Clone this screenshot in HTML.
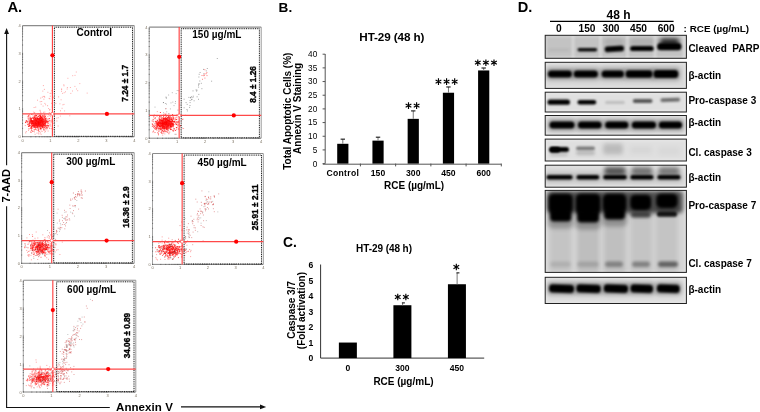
<!DOCTYPE html>
<html><head><meta charset="utf-8"><style>
html,body{margin:0;padding:0;background:#fff;width:760px;height:412px;overflow:hidden}
svg{display:block;filter:blur(0.35px)}
text{font-family:"Liberation Sans", sans-serif;white-space:pre}
</style></head><body>
<svg width="760" height="412" viewBox="0 0 760 412">
<defs><filter id="bl" x="-30%" y="-80%" width="160%" height="260%"><feGaussianBlur stdDeviation="0.9"/></filter><filter id="bl2" x="-40%" y="-80%" width="180%" height="260%"><feGaussianBlur stdDeviation="2.2"/></filter><filter id="bl3" x="-40%" y="-40%" width="180%" height="180%"><feGaussianBlur stdDeviation="1.5"/></filter></defs>
<text x="7.4" y="11.8" font-size="14.8" font-weight="bold" fill="#000">A.</text>
<text x="278.6" y="11.8" font-size="13.6" font-weight="bold" fill="#000">B.</text>
<text x="283.0" y="246.6" font-size="13.8" font-weight="bold" fill="#000">C.</text>
<text x="517.8" y="12.2" font-size="14.6" font-weight="bold" fill="#000">D.</text>
<path d="M37.7 122.6h1.0M43.7 115.3h1.0M43.1 121.0h1.0M35.3 119.0h1.0M36.3 122.9h1.0M35.2 129.2h1.0M40.1 128.6h1.0M37.3 119.4h1.0M40.9 121.6h1.0M29.3 126.1h1.0M44.6 118.9h1.0M37.2 126.5h1.0M40.6 119.0h1.0M37.0 118.2h1.0M35.9 124.4h1.0M39.7 125.3h1.0M41.3 119.8h1.0M36.7 125.3h1.0M36.9 119.9h1.0M40.7 125.5h1.0M33.7 120.1h1.0M30.8 122.2h1.0M39.4 123.4h1.0M34.6 124.8h1.0M29.0 121.9h1.0M34.0 127.6h1.0M35.5 123.1h1.0M32.3 123.5h1.0M30.9 120.6h1.0M37.8 125.7h1.0M41.6 117.4h1.0M36.6 123.2h1.0M34.3 125.5h1.0M39.3 118.4h1.0M40.8 117.5h1.0M36.3 122.8h1.0M40.0 124.7h1.0M42.3 122.1h1.0M36.7 124.2h1.0M34.0 123.2h1.0M39.1 117.9h1.0M38.7 121.1h1.0M42.5 121.7h1.0M31.8 121.5h1.0M34.6 122.5h1.0M33.8 120.0h1.0M29.8 120.1h1.0M38.2 123.3h1.0M40.0 121.9h1.0M34.3 115.7h1.0M43.8 120.9h1.0M41.3 122.7h1.0M40.4 116.5h1.0M39.4 122.2h1.0M41.9 125.2h1.0M31.6 120.6h1.0M40.3 124.7h1.0M40.3 123.6h1.0M29.7 121.6h1.0M39.1 122.6h1.0M36.5 124.4h1.0M41.1 123.7h1.0M35.6 124.0h1.0M37.5 119.0h1.0M39.1 124.2h1.0M33.7 124.0h1.0M40.3 116.5h1.0M37.1 123.8h1.0M39.8 118.1h1.0M35.3 118.7h1.0M42.5 122.5h1.0M40.3 126.1h1.0M36.8 121.0h1.0M40.4 120.3h1.0M43.2 119.4h1.0M45.6 121.8h1.0M30.6 119.1h1.0M41.5 118.3h1.0M39.7 125.1h1.0M37.2 118.3h1.0M33.1 121.9h1.0M43.2 123.7h1.0M32.0 123.3h1.0M40.1 117.0h1.0M43.4 119.3h1.0M30.4 127.4h1.0M36.2 122.1h1.0M31.7 122.8h1.0M38.7 122.7h1.0M44.4 123.5h1.0M46.6 126.0h1.0M29.6 120.1h1.0M35.0 124.9h1.0M40.7 123.2h1.0M44.7 123.7h1.0M39.5 124.2h1.0M34.3 120.3h1.0M38.9 121.2h1.0M37.5 124.1h1.0M36.7 124.9h1.0M34.3 123.7h1.0M39.3 119.5h1.0M39.0 121.9h1.0M37.2 121.6h1.0M36.6 123.2h1.0M31.8 123.2h1.0M35.4 121.7h1.0M43.0 127.2h1.0M36.7 117.8h1.0M31.2 124.6h1.0M43.6 123.6h1.0M40.0 118.5h1.0M47.0 121.3h1.0M37.9 122.1h1.0M35.5 123.9h1.0M31.1 126.8h1.0M43.5 121.6h1.0M49.1 118.6h1.0M33.9 124.9h1.0M34.7 118.6h1.0M40.3 125.3h1.0M33.9 124.4h1.0M36.4 120.9h1.0M36.0 122.3h1.0M38.5 120.3h1.0M42.5 124.2h1.0M37.7 125.1h1.0M41.7 127.3h1.0M35.7 125.7h1.0M39.1 125.2h1.0M28.0 126.5h1.0M31.1 121.6h1.0M41.2 124.0h1.0M35.0 127.9h1.0M40.2 115.3h1.0M40.0 124.5h1.0M43.5 125.6h1.0M41.2 118.7h1.0M42.1 118.9h1.0M37.1 125.5h1.0M34.5 126.4h1.0M34.3 125.1h1.0M35.4 119.2h1.0M32.5 123.3h1.0M35.1 124.6h1.0M37.2 122.3h1.0M38.7 118.9h1.0M36.1 126.2h1.0M29.0 123.6h1.0M37.3 126.1h1.0M38.6 116.2h1.0M42.4 117.1h1.0M40.2 119.5h1.0M34.7 122.7h1.0M34.4 120.5h1.0M46.6 127.8h1.0M41.0 121.4h1.0M45.8 125.7h1.0M47.1 125.6h1.0M33.9 124.3h1.0M39.3 123.2h1.0M39.6 120.6h1.0M40.1 120.2h1.0M40.0 121.5h1.0M38.5 124.8h1.0M38.4 120.4h1.0M30.9 122.8h1.0M36.9 119.0h1.0M34.2 124.9h1.0M38.2 129.9h1.0M35.5 123.6h1.0M40.4 116.2h1.0M41.3 120.8h1.0M39.0 122.8h1.0M39.0 119.8h1.0M38.0 120.8h1.0M35.6 121.0h1.0M36.9 123.7h1.0M35.4 122.1h1.0M39.3 121.6h1.0M37.7 124.0h1.0M40.2 125.3h1.0M31.7 122.1h1.0M41.6 119.4h1.0M34.2 120.6h1.0M34.3 121.0h1.0M36.7 120.9h1.0M35.1 115.2h1.0M38.9 121.5h1.0M35.0 119.4h1.0M32.8 117.0h1.0M33.8 122.2h1.0M43.5 121.3h1.0M37.8 119.4h1.0M32.4 117.7h1.0M37.6 121.4h1.0M30.6 121.5h1.0M45.6 121.8h1.0M30.8 125.8h1.0M39.7 119.1h1.0M40.0 122.9h1.0M31.1 127.2h1.0M38.9 122.6h1.0M42.1 126.9h1.0M39.7 125.0h1.0M38.8 122.2h1.0M41.8 124.7h1.0M38.3 119.3h1.0M39.1 126.3h1.0M37.0 121.5h1.0M40.4 120.6h1.0M33.4 118.3h1.0M41.1 119.6h1.0M35.3 121.7h1.0M32.7 122.2h1.0M39.2 122.3h1.0M45.2 118.8h1.0M41.9 123.9h1.0M35.3 120.9h1.0M40.7 122.4h1.0M35.6 121.6h1.0M37.0 123.0h1.0M38.0 116.3h1.0M27.2 124.4h1.0M38.4 121.5h1.0M33.0 121.6h1.0M34.5 120.6h1.0M31.0 121.2h1.0M30.8 121.3h1.0M33.4 119.6h1.0M41.3 126.3h1.0M45.0 122.0h1.0M37.5 125.6h1.0M42.5 121.4h1.0M36.4 125.5h1.0M29.0 125.2h1.0M38.3 122.4h1.0M39.6 118.3h1.0M35.7 120.7h1.0M38.9 121.4h1.0M40.2 118.2h1.0M33.7 125.0h1.0M31.0 128.2h1.0M36.6 123.4h1.0M36.6 123.0h1.0M36.0 118.8h1.0M42.0 116.1h1.0M45.3 125.7h1.0M35.7 115.4h1.0M40.7 117.8h1.0M41.8 119.8h1.0M40.8 121.1h1.0M42.3 115.3h1.0M35.9 122.0h1.0M40.9 123.4h1.0M46.6 121.6h1.0M41.2 125.9h1.0M34.8 121.0h1.0M40.3 122.4h1.0M43.2 121.1h1.0M39.2 121.2h1.0M35.1 125.2h1.0M44.5 118.4h1.0M32.0 125.2h1.0M39.8 119.7h1.0M37.5 126.6h1.0M32.3 121.4h1.0M43.0 124.3h1.0M39.1 122.0h1.0M32.4 124.2h1.0M40.3 128.2h1.0M35.7 125.4h1.0M29.1 122.3h1.0M34.5 120.6h1.0M38.8 126.3h1.0M40.4 128.0h1.0M38.3 124.6h1.0M37.8 122.8h1.0M39.7 123.9h1.0M36.6 124.5h1.0M42.9 119.7h1.0M38.3 119.5h1.0M38.9 120.1h1.0M40.0 124.7h1.0M32.9 122.1h1.0M34.4 122.8h1.0M44.4 126.0h1.0M39.1 119.7h1.0M36.3 122.0h1.0M39.1 123.5h1.0M35.4 118.3h1.0M38.8 120.1h1.0M34.6 119.9h1.0M38.8 118.8h1.0M30.5 120.4h1.0M43.5 125.5h1.0M35.3 123.4h1.0M30.5 119.7h1.0M36.6 124.4h1.0M35.9 122.2h1.0M38.3 121.1h1.0M32.5 118.4h1.0M39.4 118.6h1.0M53.8 119.2h1.0M31.9 122.9h1.0M39.1 119.6h1.0M36.2 120.8h1.0M38.5 122.6h1.0M29.5 118.7h1.0M32.4 121.0h1.0M39.6 124.3h1.0M37.4 118.7h1.0M44.9 122.7h1.0M34.4 120.7h1.0M38.4 126.4h1.0M50.6 121.9h1.0M34.2 125.0h1.0M33.6 125.0h1.0M37.4 127.5h1.0M37.4 116.3h1.0M41.4 122.5h1.0M38.2 121.5h1.0M34.2 119.3h1.0M38.5 122.5h1.0M49.4 120.4h1.0M43.3 125.8h1.0M25.2 122.1h1.0M37.0 123.4h1.0M33.7 121.0h1.0M40.4 121.6h1.0M36.8 126.1h1.0M46.2 127.1h1.0M41.8 124.9h1.0M41.6 120.1h1.0M38.4 121.0h1.0M37.4 121.1h1.0M39.1 127.8h1.0M43.4 129.5h1.0M40.0 123.9h1.0M36.0 123.2h1.0M43.3 123.7h1.0M38.5 121.2h1.0M37.2 122.7h1.0M34.1 125.6h1.0M35.1 124.8h1.0M34.7 121.9h1.0M25.1 122.4h1.0M42.1 122.3h1.0M40.1 115.9h1.0M36.6 123.0h1.0M42.3 121.8h1.0M39.6 124.9h1.0M39.3 123.2h1.0M26.5 121.1h1.0M36.6 120.7h1.0M40.0 122.6h1.0M44.8 120.9h1.0M45.8 121.8h1.0M44.0 127.3h1.0M32.4 131.5h1.0M27.8 116.2h1.0M40.1 119.9h1.0M37.7 122.4h1.0M41.9 126.9h1.0M37.0 125.8h1.0M38.6 118.5h1.0M30.9 130.2h1.0M39.6 123.1h1.0M35.6 119.9h1.0M39.2 121.8h1.0M39.6 120.1h1.0M37.1 122.6h1.0M39.0 115.6h1.0M37.5 125.1h1.0M41.0 125.9h1.0M39.8 121.4h1.0M35.1 118.4h1.0M35.0 122.5h1.0M45.4 119.1h1.0M37.1 123.7h1.0M42.0 125.4h1.0M39.4 118.3h1.0M35.1 118.0h1.0M34.2 118.1h1.0M38.1 123.5h1.0M38.7 125.4h1.0M40.3 125.4h1.0M31.9 123.1h1.0M34.9 120.7h1.0M37.2 120.9h1.0M44.8 126.0h1.0M27.0 122.0h1.0M39.6 122.1h1.0M35.2 122.1h1.0M39.5 122.3h1.0M35.4 122.9h1.0M39.2 120.6h1.0M44.6 121.7h1.0M39.2 121.6h1.0M39.5 124.1h1.0M39.3 121.1h1.0M34.2 122.7h1.0M40.0 128.0h1.0M36.7 120.9h1.0M34.0 123.1h1.0M37.4 119.7h1.0M36.6 122.7h1.0M41.0 122.4h1.0M37.4 121.7h1.0M35.2 122.4h1.0M44.1 123.3h1.0M42.0 127.1h1.0M43.3 117.0h1.0M40.3 126.6h1.0M37.1 123.2h1.0M35.7 120.5h1.0M36.3 121.2h1.0M41.8 120.6h1.0M38.1 120.1h1.0M31.0 119.0h1.0M37.4 121.4h1.0M31.3 114.4h1.0M38.3 125.0h1.0M32.2 121.8h1.0M31.9 123.4h1.0M38.1 123.8h1.0M37.2 121.5h1.0M30.2 118.4h1.0M40.9 124.1h1.0M47.3 123.9h1.0M31.0 120.5h1.0M45.7 120.5h1.0M34.5 116.9h1.0M35.4 119.5h1.0M36.8 121.6h1.0M31.1 123.4h1.0M43.4 121.5h1.0M39.8 122.7h1.0M34.2 126.1h1.0M36.4 122.3h1.0M30.8 123.0h1.0M36.0 123.0h1.0M41.8 123.3h1.0M29.9 117.8h1.0M35.6 120.4h1.0M38.2 119.6h1.0M42.3 123.8h1.0M43.6 124.9h1.0M35.5 123.1h1.0M34.3 121.7h1.0M39.6 123.2h1.0M36.0 122.8h1.0M36.2 119.6h1.0M42.4 121.3h1.0M45.1 124.8h1.0M38.8 123.4h1.0M36.7 124.1h1.0M40.1 121.7h1.0M29.2 125.8h1.0M37.5 122.8h1.0M32.9 120.5h1.0M48.3 121.8h1.0M40.8 124.7h1.0M38.2 123.9h1.0M36.7 121.9h1.0M26.3 121.3h1.0M40.8 119.8h1.0M44.9 122.4h1.0M34.3 126.0h1.0M40.6 118.2h1.0M40.8 121.3h1.0M30.7 121.3h1.0M41.8 121.3h1.0M43.7 124.9h1.0M38.6 123.1h1.0M37.3 121.6h1.0M41.1 119.3h1.0M30.7 122.3h1.0M38.0 130.9h1.0M42.3 122.8h1.0M32.0 121.5h1.0M42.0 118.5h1.0M35.7 120.3h1.0M28.3 115.6h1.0M37.1 118.3h1.0M33.2 118.7h1.0M39.0 119.6h1.0M32.4 126.3h1.0M42.3 119.8h1.0M34.3 120.7h1.0M39.2 123.7h1.0M34.9 120.7h1.0M36.1 121.1h1.0M42.9 123.4h1.0M38.6 122.6h1.0M35.8 123.0h1.0M32.0 121.8h1.0M42.8 123.3h1.0M40.9 120.6h1.0M36.1 127.6h1.0M38.7 123.0h1.0M33.0 127.1h1.0M33.1 123.7h1.0M33.9 120.9h1.0M39.2 122.1h1.0M38.9 122.5h1.0M34.3 122.2h1.0M40.9 117.8h1.0M41.1 125.2h1.0M38.4 119.8h1.0M42.2 126.3h1.0M36.3 123.6h1.0M37.1 121.8h1.0M39.7 124.6h1.0M37.4 121.7h1.0M41.1 120.1h1.0M32.0 125.7h1.0M44.0 122.3h1.0M34.1 123.4h1.0M36.9 127.7h1.0M31.4 123.0h1.0M40.3 124.4h1.0M43.3 118.4h1.0M42.4 124.5h1.0M41.3 117.4h1.0M30.6 124.0h1.0M34.1 117.0h1.0M35.5 120.8h1.0M33.4 121.1h1.0M42.6 119.9h1.0M38.4 119.7h1.0M37.5 118.4h1.0M39.8 117.4h1.0M33.3 123.4h1.0M33.5 125.9h1.0M33.7 129.8h1.0M39.8 123.3h1.0M39.1 120.1h1.0M40.2 121.1h1.0M42.4 121.8h1.0M31.5 123.4h1.0M35.1 124.1h1.0M38.3 123.0h1.0M31.6 121.4h1.0M35.2 127.2h1.0M42.1 120.1h1.0M42.5 126.1h1.0M42.4 122.5h1.0M37.8 124.0h1.0M36.6 123.3h1.0M42.4 125.0h1.0M35.9 125.5h1.0M39.1 122.9h1.0M43.5 125.1h1.0M35.9 115.5h1.0M34.9 123.5h1.0M37.6 124.1h1.0M40.3 123.7h1.0M39.8 125.2h1.0M38.3 129.1h1.0M40.1 122.9h1.0M30.4 121.6h1.0M33.8 126.6h1.0M38.3 122.2h1.0M33.4 125.8h1.0M31.6 122.6h1.0M32.2 121.4h1.0M33.5 121.1h1.0M36.8 121.1h1.0M33.0 124.4h1.0M38.6 119.8h1.0M45.2 123.3h1.0M36.9 121.3h1.0M43.3 120.1h1.0M38.9 123.1h1.0M32.6 126.0h1.0M36.4 120.6h1.0M33.2 125.5h1.0M41.0 124.6h1.0M32.4 125.5h1.0M43.5 119.8h1.0M40.2 122.7h1.0M28.5 128.8h1.0M41.1 120.1h1.0M44.5 116.3h1.0M34.1 117.4h1.0M42.0 123.7h1.0M29.6 122.3h1.0M38.7 120.8h1.0M30.2 120.0h1.0M39.8 122.1h1.0M29.6 125.6h1.0M25.8 120.6h1.0M39.4 120.5h1.0M47.8 125.7h1.0M34.9 123.4h1.0M41.3 121.4h1.0M38.1 122.3h1.0M36.1 120.9h1.0M40.3 120.0h1.0M44.9 120.6h1.0M32.1 122.8h1.0M40.1 126.0h1.0M39.1 120.5h1.0M31.2 118.6h1.0M44.8 116.6h1.0M46.3 122.1h1.0M33.3 122.5h1.0M45.4 118.0h1.0M37.8 118.3h1.0M36.9 121.4h1.0M44.3 120.1h1.0M38.6 124.4h1.0M39.0 120.6h1.0M44.4 124.4h1.0M43.4 122.5h1.0M41.6 122.5h1.0M31.3 123.8h1.0M30.6 128.4h1.0M42.6 124.4h1.0M33.4 121.5h1.0M38.3 122.4h1.0M32.8 123.5h1.0M36.8 121.1h1.0M31.9 120.6h1.0M44.9 119.7h1.0M33.0 124.7h1.0M37.0 122.3h1.0M36.8 123.3h1.0M43.0 124.6h1.0M31.2 126.7h1.0M37.4 122.6h1.0M36.7 124.8h1.0M40.0 116.3h1.0M39.7 122.5h1.0M35.5 123.0h1.0M38.7 123.4h1.0M35.9 117.2h1.0M39.7 124.9h1.0M37.1 122.8h1.0M34.7 124.5h1.0M37.5 122.7h1.0M39.2 122.4h1.0M47.7 118.9h1.0M35.4 126.3h1.0M39.0 122.3h1.0M44.1 117.6h1.0M28.3 124.0h1.0M29.8 123.0h1.0M32.3 124.9h1.0" stroke="#ff0000" stroke-width="1.0" stroke-opacity="0.75" fill="none"/>
<path d="M36.9 121.0h1.0M47.6 121.6h1.0M33.8 122.2h1.0M40.0 125.1h1.0M38.4 120.6h1.0M46.1 120.4h1.0M45.4 124.0h1.0M35.5 129.5h1.0M41.1 119.0h1.0M47.1 122.4h1.0M39.3 122.8h1.0M46.8 122.6h1.0M46.6 127.7h1.0M35.3 121.5h1.0M36.5 133.1h1.0M30.4 123.4h1.0M36.6 125.0h1.0M39.0 119.0h1.0M28.6 124.8h1.0M43.7 125.5h1.0M38.6 120.2h1.0M41.5 124.4h1.0M31.3 125.6h1.0M44.3 114.5h1.0M42.9 119.2h1.0M36.8 120.5h1.0M34.2 129.8h1.0M35.4 119.8h1.0M36.6 130.3h1.0M33.5 120.6h1.0M44.3 112.1h1.0M25.2 132.9h1.0M34.9 116.5h1.0M35.2 118.8h1.0M39.9 132.9h1.0M47.9 114.8h1.0M43.2 116.7h1.0M44.2 132.1h1.0M48.4 125.7h1.0M31.1 129.9h1.0M40.6 126.6h1.0M48.8 112.6h1.0M47.5 122.1h1.0M33.3 124.6h1.0M37.0 125.0h1.0M40.2 119.4h1.0M32.2 128.5h1.0M32.5 115.2h1.0M51.1 128.7h1.0M32.4 124.9h1.0M51.0 120.2h1.0M37.9 113.7h1.0M56.4 121.0h1.0M29.7 116.2h1.0M43.0 119.5h1.0M52.2 116.4h1.0M33.4 117.6h1.0M27.6 122.1h1.0M46.6 119.4h1.0M38.4 118.1h1.0M27.6 123.7h1.0M28.8 114.6h1.0M34.6 134.3h1.0M46.0 128.0h1.0M35.5 115.2h1.0M43.4 120.6h1.0M51.7 126.3h1.0M48.5 120.7h1.0M49.9 116.7h1.0M48.2 125.9h1.0M48.1 123.5h1.0M40.6 123.7h1.0M36.8 123.6h1.0M28.8 117.3h1.0M28.6 125.5h1.0M37.7 119.5h1.0M28.0 130.3h1.0M31.0 132.2h1.0M32.7 120.2h1.0M43.5 123.0h1.0M35.4 124.1h1.0M36.6 122.4h1.0M49.0 128.2h1.0M35.2 107.1h1.0M42.9 128.5h1.0M29.0 125.9h1.0M40.6 131.0h1.0M38.9 125.4h1.0M39.3 114.6h1.0M34.0 123.2h1.0M29.2 120.2h1.0M35.4 125.9h1.0M33.9 113.2h1.0M46.5 122.0h1.0M45.5 129.8h1.0M27.8 119.2h1.0M43.1 125.0h1.0M33.8 119.9h1.0M41.7 122.3h1.0M33.8 121.8h1.0M25.5 122.8h1.0M46.4 127.9h1.0M41.7 131.4h1.0M27.6 118.1h1.0M33.4 121.7h1.0M28.0 126.1h1.0M43.1 130.1h1.0M50.2 115.0h1.0M34.9 127.6h1.0M49.4 124.9h1.0M47.6 131.0h1.0M34.2 126.2h1.0M45.0 124.2h1.0M43.0 123.4h1.0M57.6 126.0h1.0M49.9 126.0h1.0M44.4 123.0h1.0M52.0 120.9h1.0M29.1 124.3h1.0M39.5 113.5h1.0M35.6 122.1h1.0M52.5 121.8h1.0M42.7 126.7h1.0M49.4 128.5h1.0M30.3 132.4h1.0M44.5 128.4h1.0M33.9 119.9h1.0M40.0 129.5h1.0M43.3 115.8h1.0M39.6 123.3h1.0M30.0 131.9h1.0M49.7 124.1h1.0M41.3 113.2h1.0M37.8 128.0h1.0M43.9 130.3h1.0M33.5 120.5h1.0M53.8 115.4h1.0M39.9 117.5h1.0M41.1 124.9h1.0M40.9 122.1h1.0M30.4 121.7h1.0M28.2 117.0h1.0M39.8 111.2h1.0M41.0 123.7h1.0M49.3 115.6h1.0M41.8 125.0h1.0M28.9 120.2h1.0M42.4 128.2h1.0M45.0 127.2h1.0M46.4 120.6h1.0M40.8 128.1h1.0M27.8 118.6h1.0M47.8 125.9h1.0M31.9 123.0h1.0M42.8 123.5h1.0M24.8 125.5h1.0M44.4 122.3h1.0M31.5 117.4h1.0M47.1 105.7h1.0M52.8 129.3h1.0M47.8 121.2h1.0M28.2 124.5h1.0M30.1 128.5h1.0M30.7 121.9h1.0M43.6 127.9h1.0M40.9 123.5h1.0M39.3 116.3h1.0M40.6 134.3h1.0M42.9 121.7h1.0M43.5 120.5h1.0M52.2 128.0h1.0M37.5 120.3h1.0M39.7 121.2h1.0M26.9 116.8h1.0M32.2 130.7h1.0M28.0 120.0h1.0M39.8 124.4h1.0M46.7 128.8h1.0M34.3 124.3h1.0M33.9 125.3h1.0M33.7 118.8h1.0M39.0 131.5h1.0M33.4 124.4h1.0M41.5 125.6h1.0M40.5 114.4h1.0M40.8 129.3h1.0M44.3 117.1h1.0M38.2 132.9h1.0M39.1 121.3h1.0M52.7 123.5h1.0M37.5 121.1h1.0M44.6 126.9h1.0M38.3 134.0h1.0M34.0 131.9h1.0M34.0 116.1h1.0M31.0 122.3h1.0M38.0 128.0h1.0M32.8 118.4h1.0M34.3 127.5h1.0M48.1 127.0h1.0M36.7 130.0h1.0M47.4 116.4h1.0M40.1 112.3h1.0M45.1 128.4h1.0M32.7 121.9h1.0M39.1 117.8h1.0M60.0 110.8h1.0M46.3 122.2h1.0M39.8 119.7h1.0M45.0 131.3h1.0M28.1 121.4h1.0M30.7 122.5h1.0M41.4 119.2h1.0M44.7 126.3h1.0M34.4 121.1h1.0M36.2 126.7h1.0M34.8 120.1h1.0M36.2 122.5h1.0M27.7 125.8h1.0M25.8 131.6h1.0M37.1 114.2h1.0M29.6 118.7h1.0M32.2 127.2h1.0M28.9 125.6h1.0M39.8 114.0h1.0M34.0 119.3h1.0M37.1 128.1h1.0M29.3 123.4h1.0M31.5 122.8h1.0M42.0 124.3h1.0M40.7 128.5h1.0" stroke="#ff3030" stroke-width="1.0" stroke-opacity="0.45" fill="none"/>
<path d="M75.8 72.0h1.0M69.3 115.8h1.0M61.6 108.3h1.0M48.1 108.5h1.0M57.8 117.7h1.0M63.5 104.4h1.0M72.0 91.0h1.0M59.9 116.1h1.0M74.4 86.4h1.0M65.0 91.8h1.0M56.3 118.1h1.0M36.3 116.7h1.0M52.1 92.8h1.0M49.0 110.1h1.0M62.1 93.4h1.0M66.9 87.5h1.0M77.2 90.7h1.0M63.5 85.8h1.0M52.3 100.9h1.0M86.7 93.1h1.0M66.7 89.0h1.0M61.1 88.9h1.0M61.1 89.6h1.0M50.5 114.6h1.0M69.9 87.5h1.0M67.4 78.3h1.0M79.3 83.6h1.0M74.5 75.4h1.0M72.2 75.7h1.0M76.0 89.0h1.0M61.0 91.3h1.0M59.4 103.8h1.0M63.3 84.8h1.0M51.6 107.0h1.0M62.4 104.8h1.0M60.6 99.8h1.0M70.3 93.4h1.0M63.7 92.7h1.0M45.1 104.8h1.0M64.1 110.9h1.0" stroke="#ff5050" stroke-width="1.0" stroke-opacity="0.45" fill="none"/>
<path d="M39.7 101.7h1.0M45.3 115.4h1.0M46.0 118.8h1.0M43.8 114.1h1.0M58.1 96.9h1.0M49.6 93.4h1.0M42.9 85.6h1.0M47.4 92.3h1.0M50.9 112.7h1.0M45.4 120.9h1.0M33.6 107.5h1.0M43.9 96.4h1.0M43.7 116.4h1.0M55.3 103.4h1.0M33.2 112.1h1.0M52.1 100.6h1.0M42.6 106.1h1.0M48.7 98.4h1.0M41.8 97.2h1.0M44.4 103.4h1.0M49.8 96.2h1.0M43.9 89.4h1.0M49.4 109.5h1.0M43.0 112.3h1.0M41.2 101.5h1.0M42.3 91.1h1.0M40.7 104.2h1.0M42.8 96.4h1.0M51.1 103.3h1.0M37.0 100.2h1.0M34.2 112.7h1.0M43.4 99.2h1.0M52.9 97.3h1.0M49.4 98.8h1.0M50.9 90.8h1.0M50.5 93.3h1.0M39.5 110.3h1.0M44.2 97.2h1.0M28.7 122.9h1.0M40.2 98.1h1.0" stroke="#ff4040" stroke-width="1.0" stroke-opacity="0.45" fill="none"/>
<line x1="22.50" y1="25.60" x2="134.30" y2="25.60" stroke="#8c8c8c" stroke-width="1.1"/>
<line x1="134.30" y1="25.60" x2="134.30" y2="136.70" stroke="#9a9a9a" stroke-width="1"/>
<line x1="22.50" y1="25.60" x2="22.50" y2="136.70" stroke="#8a8a8a" stroke-width="0.8"/>
<line x1="22.50" y1="136.70" x2="134.30" y2="136.70" stroke="#666" stroke-width="0.8"/>
<path d="M22.0 136.7h1.1M22.5 136.2v1.1M22.0 128.3h1.1M30.9 136.2v1.1M22.0 123.4h1.1M35.8 136.2v1.1M22.0 120.0h1.1M39.3 136.2v1.1M22.0 117.3h1.1M42.0 136.2v1.1M22.0 115.1h1.1M44.2 136.2v1.1M22.0 113.2h1.1M46.1 136.2v1.1M22.0 111.6h1.1M47.7 136.2v1.1M22.0 110.2h1.1M49.2 136.2v1.1M22.0 108.9h1.1M50.5 136.2v1.1M22.0 100.6h1.1M58.9 136.2v1.1M22.0 95.7h1.1M63.8 136.2v1.1M22.0 92.2h1.1M67.3 136.2v1.1M22.0 89.5h1.1M70.0 136.2v1.1M22.0 87.3h1.1M72.2 136.2v1.1M22.0 85.5h1.1M74.1 136.2v1.1M22.0 83.8h1.1M75.7 136.2v1.1M22.0 82.4h1.1M77.1 136.2v1.1M22.0 81.1h1.1M78.4 136.2v1.1M22.0 72.8h1.1M86.8 136.2v1.1M22.0 67.9h1.1M91.7 136.2v1.1M22.0 64.4h1.1M95.2 136.2v1.1M22.0 61.7h1.1M97.9 136.2v1.1M22.0 59.5h1.1M100.1 136.2v1.1M22.0 57.7h1.1M102.0 136.2v1.1M22.0 56.1h1.1M103.6 136.2v1.1M22.0 54.6h1.1M105.1 136.2v1.1M22.0 53.4h1.1M106.4 136.2v1.1M22.0 45.0h1.1M114.8 136.2v1.1M22.0 40.1h1.1M119.7 136.2v1.1M22.0 36.7h1.1M123.2 136.2v1.1M22.0 34.0h1.1M125.9 136.2v1.1M22.0 31.8h1.1M128.1 136.2v1.1M22.0 29.9h1.1M130.0 136.2v1.1M22.0 28.3h1.1M131.6 136.2v1.1M22.0 26.9h1.1M133.0 136.2v1.1" stroke="#555" stroke-width="0.7" fill="none"/>
<text x="19.7" y="138.2" font-size="4.0" text-anchor="middle" fill="#7a7060">0</text>
<text x="22.5" y="141.7" font-size="4.0" text-anchor="middle" fill="#7a7060">0</text>
<text x="19.7" y="110.42499999999998" font-size="4.0" text-anchor="middle" fill="#7a7060">1</text>
<text x="50.45" y="141.7" font-size="4.0" text-anchor="middle" fill="#7a7060">1</text>
<text x="19.7" y="82.64999999999999" font-size="4.0" text-anchor="middle" fill="#7a7060">2</text>
<text x="78.4" y="141.7" font-size="4.0" text-anchor="middle" fill="#7a7060">2</text>
<text x="19.7" y="54.875" font-size="4.0" text-anchor="middle" fill="#7a7060">3</text>
<text x="106.35000000000001" y="141.7" font-size="4.0" text-anchor="middle" fill="#7a7060">3</text>
<text x="19.7" y="27.099999999999994" font-size="4.0" text-anchor="middle" fill="#7a7060">4</text>
<text x="134.3" y="141.7" font-size="4.0" text-anchor="middle" fill="#7a7060">4</text>
<rect x="54.4" y="27.2" width="78.1" height="109.1" fill="none" stroke="#111" stroke-width="1" stroke-dasharray="1 0.8"/>
<line x1="52.41" y1="25.60" x2="52.41" y2="136.70" stroke="#ff3a3a" stroke-width="1.1"/>
<line x1="22.50" y1="113.92" x2="134.30" y2="113.92" stroke="#ff4848" stroke-width="1.1"/>
<circle cx="52.4" cy="55.3" r="2.1" fill="#ff0000"/>
<circle cx="106.9" cy="113.9" r="2.1" fill="#ff0000"/>
<circle cx="52.4" cy="113.9" r="1.5" fill="#fff" stroke="#ff5a5a" stroke-width="0.7"/>
<text x="76.6" y="36.4" font-size="10" font-weight="bold" fill="#000">Control</text>
<text x="127.8" y="101.7" font-size="8.3" font-weight="bold" textLength="36.8" lengthAdjust="spacing" transform="rotate(-90 127.8 101.7)" fill="#000" stroke="#000" stroke-width="0.35">7.24 ± 1.7</text>
<path d="M178.1 129.0h1.0M167.6 122.1h1.0M167.5 125.3h1.0M165.4 123.1h1.0M169.0 125.7h1.0M163.0 126.3h1.0M168.3 120.6h1.0M163.8 123.7h1.0M163.1 124.5h1.0M165.7 124.5h1.0M164.9 123.4h1.0M156.9 123.9h1.0M175.1 130.5h1.0M165.8 126.2h1.0M157.1 124.6h1.0M170.3 121.1h1.0M165.1 119.4h1.0M166.2 126.4h1.0M168.6 117.5h1.0M160.9 123.4h1.0M164.7 125.2h1.0M166.3 125.3h1.0M170.0 119.0h1.0M161.6 124.3h1.0M163.9 123.9h1.0M167.1 119.9h1.0M163.7 118.3h1.0M164.0 128.1h1.0M166.4 124.0h1.0M160.5 123.7h1.0M172.7 117.7h1.0M160.8 116.1h1.0M165.4 123.6h1.0M163.6 122.4h1.0M161.8 120.9h1.0M167.7 119.9h1.0M170.0 124.3h1.0M172.1 120.6h1.0M168.0 125.5h1.0M163.1 131.7h1.0M169.3 127.5h1.0M158.3 123.0h1.0M165.4 121.0h1.0M167.7 130.3h1.0M167.9 128.9h1.0M159.7 123.7h1.0M158.0 134.0h1.0M173.1 121.5h1.0M162.7 120.3h1.0M157.3 132.8h1.0M159.2 121.2h1.0M165.2 124.0h1.0M170.7 118.9h1.0M165.1 122.5h1.0M170.8 123.9h1.0M166.2 123.0h1.0M167.3 120.4h1.0M169.8 122.6h1.0M163.3 123.3h1.0M166.5 127.7h1.0M163.2 121.9h1.0M162.0 123.3h1.0M168.2 117.6h1.0M161.1 123.5h1.0M165.4 123.6h1.0M161.2 125.4h1.0M164.6 121.1h1.0M162.5 124.0h1.0M170.2 125.3h1.0M165.4 118.4h1.0M165.3 117.9h1.0M172.8 124.4h1.0M159.6 120.0h1.0M151.9 126.3h1.0M164.9 114.7h1.0M167.0 123.6h1.0M167.9 120.3h1.0M166.1 127.2h1.0M160.7 123.5h1.0M173.2 119.7h1.0M166.3 121.9h1.0M163.6 125.0h1.0M159.5 115.9h1.0M166.8 121.0h1.0M162.5 124.1h1.0M162.6 125.2h1.0M165.8 124.1h1.0M165.8 119.1h1.0M160.9 125.8h1.0M170.7 123.0h1.0M160.0 126.0h1.0M159.4 119.6h1.0M166.2 123.7h1.0M165.3 120.6h1.0M165.1 121.5h1.0M162.8 125.1h1.0M164.9 121.1h1.0M162.0 120.5h1.0M156.9 127.1h1.0M168.2 121.0h1.0M159.9 112.5h1.0M163.6 124.2h1.0M168.2 121.2h1.0M164.8 127.4h1.0M177.7 121.4h1.0M158.0 125.3h1.0M161.1 121.0h1.0M165.1 123.4h1.0M171.1 126.7h1.0M163.5 119.9h1.0M157.9 124.2h1.0M170.1 126.2h1.0M160.3 123.2h1.0M163.7 126.3h1.0M168.9 121.9h1.0M161.5 123.6h1.0M162.5 124.5h1.0M167.0 121.2h1.0M163.7 127.2h1.0M166.0 120.2h1.0M160.1 129.6h1.0M164.1 118.4h1.0M159.4 122.9h1.0M157.2 124.3h1.0M173.0 125.3h1.0M166.8 121.5h1.0M169.0 123.6h1.0M160.0 124.0h1.0M164.5 120.1h1.0M163.6 124.6h1.0M157.9 124.2h1.0M167.2 121.9h1.0M161.2 120.1h1.0M163.7 123.8h1.0M157.4 123.0h1.0M169.3 123.0h1.0M168.2 120.9h1.0M166.5 118.6h1.0M160.3 126.3h1.0M162.1 123.8h1.0M170.4 123.2h1.0M163.3 121.5h1.0M165.9 118.6h1.0M165.3 123.3h1.0M159.3 122.8h1.0M171.9 119.6h1.0M155.2 127.4h1.0M165.7 125.6h1.0M164.2 124.7h1.0M156.9 123.6h1.0M166.2 122.5h1.0M167.1 124.8h1.0M164.9 117.9h1.0M160.7 125.6h1.0M166.8 123.8h1.0M169.9 119.8h1.0M165.7 120.9h1.0M172.8 123.1h1.0M168.7 122.0h1.0M168.3 120.6h1.0M171.2 123.1h1.0M161.5 121.4h1.0M162.1 126.2h1.0M167.1 123.0h1.0M167.1 128.3h1.0M171.8 125.8h1.0M170.1 126.7h1.0M165.5 119.4h1.0M165.7 124.7h1.0M163.3 122.4h1.0M162.9 126.2h1.0M162.5 124.0h1.0M169.0 124.1h1.0M162.4 126.1h1.0M163.0 120.7h1.0M165.4 128.5h1.0M162.2 121.5h1.0M163.6 115.2h1.0M154.3 126.2h1.0M166.5 123.2h1.0M163.3 128.2h1.0M165.6 123.4h1.0M166.5 128.7h1.0M155.9 121.7h1.0M176.2 124.6h1.0M165.6 129.1h1.0M165.7 127.4h1.0M156.4 128.6h1.0M167.9 124.2h1.0M166.9 120.7h1.0M163.3 124.7h1.0M166.2 127.1h1.0M171.2 125.9h1.0M163.6 123.2h1.0M160.9 131.2h1.0M171.6 121.5h1.0M166.5 122.2h1.0M164.4 131.2h1.0M176.2 119.5h1.0M166.0 128.6h1.0M164.5 124.2h1.0M166.6 119.8h1.0M163.4 128.7h1.0M166.3 129.3h1.0M166.0 127.0h1.0M162.2 127.1h1.0M164.0 124.1h1.0M166.8 125.2h1.0M167.1 125.1h1.0M168.0 125.0h1.0M169.0 124.1h1.0M166.4 126.2h1.0M167.7 122.5h1.0M163.4 123.7h1.0M164.0 126.8h1.0M170.2 117.8h1.0M155.8 127.9h1.0M167.0 121.3h1.0M180.2 125.5h1.0M156.3 122.8h1.0M172.3 121.8h1.0M156.8 121.2h1.0M166.8 119.1h1.0M172.8 126.0h1.0M172.1 114.5h1.0M160.7 122.5h1.0M158.8 126.3h1.0M158.1 128.0h1.0M168.4 116.1h1.0M163.1 118.5h1.0M164.9 123.6h1.0M166.1 121.1h1.0M166.8 119.4h1.0M167.4 123.1h1.0M165.4 124.8h1.0M157.2 123.9h1.0M171.8 120.7h1.0M151.8 123.9h1.0M170.7 127.2h1.0M162.0 121.3h1.0M163.9 128.9h1.0M162.3 125.9h1.0M163.0 119.7h1.0M164.7 122.8h1.0M163.5 122.8h1.0M159.6 123.4h1.0M168.8 120.2h1.0M162.0 123.8h1.0M171.2 129.4h1.0M164.1 122.8h1.0M161.4 133.2h1.0M166.9 129.9h1.0M169.0 118.4h1.0M160.4 120.4h1.0M163.4 125.0h1.0M171.6 123.5h1.0M160.0 123.4h1.0M160.7 120.5h1.0M165.6 125.9h1.0M159.0 126.5h1.0M153.0 125.9h1.0M156.8 123.4h1.0M166.6 122.7h1.0M167.9 124.7h1.0M167.6 121.1h1.0M166.6 126.7h1.0M158.9 124.0h1.0M168.0 125.6h1.0M170.3 126.5h1.0M161.5 119.8h1.0M169.3 124.4h1.0M163.0 126.7h1.0M165.7 123.4h1.0M166.5 126.6h1.0M157.7 121.9h1.0M171.8 120.7h1.0M160.7 120.5h1.0M164.3 126.9h1.0M162.4 124.1h1.0M167.0 117.7h1.0M166.8 124.1h1.0M164.9 119.6h1.0M171.5 118.5h1.0M166.1 127.8h1.0M162.9 119.8h1.0M163.5 120.8h1.0M163.4 118.3h1.0M160.6 122.2h1.0M160.7 123.4h1.0M167.6 121.5h1.0M169.8 124.4h1.0M173.8 121.7h1.0M170.2 129.6h1.0M161.4 118.2h1.0M166.0 125.1h1.0M158.3 122.0h1.0M168.3 122.4h1.0M166.5 123.1h1.0M161.9 123.3h1.0M164.3 123.3h1.0M163.6 128.7h1.0M161.8 125.3h1.0M171.1 119.6h1.0M179.6 126.2h1.0M168.7 126.7h1.0M169.8 116.8h1.0M165.6 119.7h1.0M163.1 118.7h1.0M175.3 123.2h1.0M163.1 122.7h1.0M166.7 121.1h1.0M164.2 121.8h1.0M167.6 123.7h1.0M164.6 128.1h1.0M167.6 125.7h1.0M158.8 128.4h1.0M164.3 118.7h1.0M171.3 124.6h1.0M159.9 124.3h1.0M161.6 122.8h1.0M171.3 123.3h1.0M166.7 121.9h1.0M169.9 125.4h1.0M154.2 128.7h1.0M165.5 118.1h1.0M158.7 126.0h1.0M158.2 125.3h1.0M166.8 126.0h1.0M170.4 125.1h1.0M157.7 123.8h1.0M159.5 121.5h1.0M162.0 127.0h1.0M164.2 122.7h1.0M158.4 125.9h1.0M175.6 119.5h1.0M167.6 127.4h1.0M163.1 123.4h1.0M162.3 121.5h1.0M175.9 127.5h1.0M175.5 123.0h1.0M162.4 123.3h1.0M166.4 126.1h1.0M170.8 124.1h1.0M159.1 120.8h1.0M162.0 123.0h1.0M171.2 124.7h1.0M161.4 124.4h1.0M162.7 122.3h1.0M158.3 120.0h1.0M161.1 121.3h1.0M168.0 121.3h1.0M160.8 119.0h1.0M158.5 128.7h1.0M161.7 128.2h1.0M173.2 130.4h1.0M165.5 121.1h1.0M162.0 130.8h1.0M165.4 123.8h1.0M166.8 121.3h1.0M165.3 128.0h1.0M156.0 126.0h1.0M166.1 124.5h1.0M163.7 121.5h1.0M168.7 128.3h1.0M158.2 122.9h1.0M169.7 121.4h1.0M162.3 123.4h1.0M156.5 123.5h1.0M171.0 119.7h1.0M162.2 123.1h1.0M166.4 123.7h1.0M163.9 124.8h1.0M169.9 121.6h1.0M169.9 124.5h1.0M170.0 121.6h1.0M168.0 123.3h1.0M156.9 120.5h1.0M156.6 126.4h1.0M165.6 123.5h1.0M160.0 122.8h1.0M166.8 122.4h1.0M165.4 120.2h1.0M157.8 122.8h1.0M159.6 121.1h1.0M159.2 117.9h1.0M160.3 121.3h1.0M163.6 127.0h1.0M167.9 128.0h1.0M171.0 121.5h1.0M159.9 125.0h1.0M161.9 122.9h1.0M172.1 124.0h1.0M168.9 119.6h1.0M165.7 120.0h1.0M153.3 127.6h1.0M159.8 123.1h1.0M165.3 124.6h1.0M161.8 127.8h1.0M174.1 121.5h1.0M165.0 124.2h1.0M165.9 122.3h1.0M159.3 116.3h1.0M159.6 119.8h1.0M161.4 120.5h1.0M161.6 125.1h1.0M163.5 127.4h1.0M166.4 119.9h1.0M165.7 124.6h1.0M169.4 123.5h1.0M158.1 125.1h1.0M165.6 123.4h1.0M165.7 116.4h1.0M172.2 124.5h1.0M163.5 124.6h1.0M166.1 123.1h1.0M160.7 123.0h1.0M166.6 127.4h1.0M166.5 129.1h1.0M161.6 125.6h1.0M162.5 124.5h1.0M164.4 126.2h1.0M167.4 126.7h1.0M159.1 126.8h1.0M168.8 124.9h1.0M163.0 124.2h1.0M173.7 128.5h1.0M171.6 125.3h1.0M162.6 122.8h1.0M161.6 124.3h1.0M176.4 127.6h1.0M167.6 124.8h1.0M167.3 123.8h1.0M162.5 121.6h1.0M164.0 128.8h1.0M168.5 121.6h1.0M167.5 125.2h1.0M160.6 123.3h1.0M170.6 121.6h1.0M166.1 126.5h1.0M160.0 126.5h1.0M169.4 124.0h1.0M163.7 121.7h1.0M168.4 125.4h1.0M161.9 128.3h1.0M166.3 125.9h1.0M156.8 122.9h1.0M166.4 120.3h1.0M157.3 125.6h1.0M165.4 124.8h1.0M152.4 124.8h1.0M164.3 124.3h1.0M168.1 126.7h1.0M166.9 125.2h1.0M170.3 123.0h1.0M159.4 123.7h1.0M172.1 123.6h1.0M172.3 126.7h1.0M158.8 125.7h1.0M160.8 126.2h1.0M161.8 120.8h1.0M164.5 119.5h1.0M165.5 122.8h1.0M152.7 119.4h1.0M167.4 124.7h1.0M163.4 124.8h1.0M159.7 128.0h1.0M169.1 123.0h1.0M162.9 125.3h1.0M170.0 123.4h1.0M167.1 122.3h1.0M163.0 124.7h1.0M170.2 127.1h1.0M168.5 123.9h1.0M162.2 124.2h1.0M156.8 124.0h1.0M162.0 121.9h1.0M167.5 124.4h1.0M163.4 124.7h1.0M173.0 118.3h1.0M165.8 120.6h1.0M165.5 124.1h1.0M166.5 126.6h1.0M160.3 125.3h1.0M164.0 122.7h1.0M161.4 121.4h1.0M153.3 116.9h1.0M156.0 124.8h1.0M168.1 123.2h1.0M162.4 125.0h1.0M164.0 123.6h1.0M157.5 125.2h1.0M161.7 127.1h1.0M168.3 120.6h1.0M165.0 123.4h1.0M162.1 120.0h1.0M171.9 125.1h1.0M164.3 123.0h1.0M162.9 121.8h1.0M170.1 129.3h1.0M156.2 128.0h1.0M167.2 121.4h1.0M159.2 123.6h1.0M160.8 129.4h1.0M161.3 126.1h1.0M165.2 126.9h1.0M165.1 125.2h1.0M166.0 119.0h1.0M165.6 125.4h1.0M171.3 117.4h1.0M172.7 124.2h1.0M168.0 125.8h1.0M168.2 118.9h1.0M162.8 120.9h1.0M159.3 119.7h1.0M167.4 117.8h1.0M164.7 120.5h1.0M168.7 119.9h1.0M155.8 129.2h1.0M177.4 125.8h1.0M158.5 122.5h1.0M164.7 123.1h1.0M169.3 121.3h1.0M157.9 125.3h1.0M161.9 120.4h1.0M154.9 117.9h1.0M157.7 122.1h1.0M155.3 121.4h1.0M165.1 122.1h1.0M166.0 120.8h1.0M163.1 123.0h1.0M170.6 124.9h1.0M171.2 122.8h1.0M164.6 123.3h1.0M163.5 128.3h1.0M163.3 122.9h1.0M162.4 123.6h1.0M170.9 122.8h1.0M165.7 125.2h1.0M163.0 122.2h1.0M163.5 121.8h1.0M167.2 125.7h1.0M162.7 122.7h1.0M166.1 121.2h1.0M164.4 121.4h1.0M171.1 126.2h1.0M170.2 126.5h1.0M157.8 123.8h1.0M163.8 126.8h1.0M168.0 116.0h1.0M162.5 126.2h1.0M168.5 126.0h1.0M166.2 121.7h1.0M167.4 125.0h1.0M164.3 130.8h1.0M166.1 124.1h1.0M167.1 126.6h1.0M157.6 125.6h1.0M160.2 128.8h1.0M159.7 126.7h1.0M172.7 124.0h1.0M166.1 124.0h1.0M166.4 127.1h1.0M165.4 126.0h1.0M162.1 126.5h1.0M161.0 123.6h1.0M168.7 124.2h1.0M162.8 127.7h1.0M172.2 121.7h1.0M165.6 126.0h1.0M165.1 122.7h1.0M163.6 126.7h1.0M164.3 123.0h1.0M164.8 124.3h1.0M171.9 123.5h1.0M175.8 122.0h1.0M159.1 122.8h1.0M165.8 123.4h1.0M168.0 123.3h1.0M160.3 127.9h1.0M161.6 124.2h1.0M162.4 130.6h1.0M153.1 131.1h1.0M167.7 124.8h1.0M164.4 124.6h1.0M164.2 119.4h1.0M165.0 121.9h1.0M165.8 120.6h1.0M175.7 124.5h1.0M165.5 122.6h1.0M168.6 120.3h1.0M162.2 122.4h1.0M166.3 122.8h1.0M163.1 123.6h1.0M163.9 126.7h1.0M160.3 126.7h1.0M160.7 128.3h1.0M166.8 122.6h1.0M168.2 124.6h1.0M166.9 125.8h1.0M161.4 122.9h1.0M166.2 125.5h1.0M152.5 121.1h1.0M169.2 118.0h1.0M164.5 122.5h1.0M166.0 125.9h1.0M170.2 128.2h1.0M162.7 117.8h1.0M169.3 122.3h1.0M162.6 127.4h1.0M167.3 120.5h1.0M162.7 128.9h1.0M166.1 125.1h1.0M171.6 124.3h1.0M161.6 125.0h1.0M161.8 127.4h1.0M163.1 116.6h1.0M166.1 125.0h1.0M177.8 122.2h1.0M161.9 123.8h1.0M155.0 129.0h1.0M161.6 125.6h1.0M157.2 123.4h1.0M162.1 121.1h1.0M164.8 124.9h1.0M160.2 122.8h1.0M161.5 124.9h1.0M155.8 122.3h1.0M165.6 131.3h1.0M161.2 122.1h1.0M169.9 125.5h1.0M169.8 125.4h1.0M160.6 132.5h1.0M163.0 127.1h1.0M165.0 121.9h1.0M168.4 116.7h1.0M156.8 126.2h1.0M164.4 125.8h1.0M173.7 122.0h1.0M164.3 122.9h1.0M165.8 125.5h1.0M164.8 124.3h1.0M159.1 125.1h1.0M169.3 121.8h1.0M166.1 121.3h1.0M165.6 118.4h1.0M168.3 120.9h1.0M168.5 121.6h1.0" stroke="#ff0000" stroke-width="1.0" stroke-opacity="0.75" fill="none"/>
<path d="M165.8 120.6h1.0M172.4 122.2h1.0M156.3 123.6h1.0M182.6 119.1h1.0M166.9 127.0h1.0M176.4 129.1h1.0M157.9 135.0h1.0M173.2 117.5h1.0M167.9 121.5h1.0M163.0 120.9h1.0M159.0 124.3h1.0M157.2 115.4h1.0M179.6 129.3h1.0M174.8 117.4h1.0M165.6 129.0h1.0M166.2 126.8h1.0M158.5 131.3h1.0M159.5 122.2h1.0M163.3 127.7h1.0M154.8 132.5h1.0M171.3 121.0h1.0M168.9 117.1h1.0M165.9 120.3h1.0M162.8 122.2h1.0M164.3 133.9h1.0M154.0 126.6h1.0M180.6 121.4h1.0M169.8 129.0h1.0M161.4 119.8h1.0M178.0 124.7h1.0M173.9 120.1h1.0M168.4 132.1h1.0M166.5 127.3h1.0M171.1 122.4h1.0M176.9 122.4h1.0M165.2 121.4h1.0M162.7 124.6h1.0M169.5 125.4h1.0M165.3 119.6h1.0M161.2 133.0h1.0M164.4 126.2h1.0M163.0 125.6h1.0M167.4 123.5h1.0M165.5 118.8h1.0M165.2 131.8h1.0M163.5 121.5h1.0M168.4 133.9h1.0M160.3 128.8h1.0M172.8 127.1h1.0M166.3 127.8h1.0M168.4 127.2h1.0M153.9 126.7h1.0M161.0 126.1h1.0M175.7 134.3h1.0M163.5 132.2h1.0M157.2 127.1h1.0M167.5 118.8h1.0M165.5 108.6h1.0M169.7 123.7h1.0M181.8 128.2h1.0M164.6 123.4h1.0M165.7 120.6h1.0M158.8 123.9h1.0M164.1 130.3h1.0M164.4 125.0h1.0M170.9 124.4h1.0M169.3 132.1h1.0M158.2 131.3h1.0M160.6 117.9h1.0M156.5 123.8h1.0M170.9 125.7h1.0M178.2 116.3h1.0M170.1 120.9h1.0M166.7 129.1h1.0M176.1 117.1h1.0M167.6 127.4h1.0M164.5 113.4h1.0M162.9 115.3h1.0M174.2 124.5h1.0M170.4 120.0h1.0M177.6 123.0h1.0M161.8 129.5h1.0M162.0 118.6h1.0M160.9 122.2h1.0M167.0 119.6h1.0M158.8 118.7h1.0M172.4 116.3h1.0M167.4 118.6h1.0M156.4 125.1h1.0M176.7 124.6h1.0M164.1 125.7h1.0M165.8 114.1h1.0M161.0 121.8h1.0M167.9 113.8h1.0M165.1 126.5h1.0M170.5 125.7h1.0M168.6 124.9h1.0M163.5 126.8h1.0M153.8 114.8h1.0M171.3 120.4h1.0M162.2 128.5h1.0M164.4 127.3h1.0M163.9 120.3h1.0M160.6 121.5h1.0M158.5 127.9h1.0M159.6 119.4h1.0M153.7 132.6h1.0M166.7 126.9h1.0M163.1 114.9h1.0M174.4 118.6h1.0M164.0 125.1h1.0M163.2 128.7h1.0M157.8 129.4h1.0M152.0 132.0h1.0M172.1 123.7h1.0M162.8 127.5h1.0M170.6 124.2h1.0M171.5 124.9h1.0M160.4 122.9h1.0M162.6 133.5h1.0M161.7 126.1h1.0M173.2 125.9h1.0M165.7 126.0h1.0M166.0 129.2h1.0M163.9 120.9h1.0M181.7 119.3h1.0M156.8 111.6h1.0M175.1 120.0h1.0M176.4 114.9h1.0M155.0 121.4h1.0M171.8 126.2h1.0M166.9 121.5h1.0M171.9 130.5h1.0M154.5 123.3h1.0M166.6 124.9h1.0M156.4 130.4h1.0M161.8 117.7h1.0M176.5 117.8h1.0M163.5 121.8h1.0M152.8 115.7h1.0M155.0 125.4h1.0M173.1 131.5h1.0M158.7 129.7h1.0M151.5 120.9h1.0M174.0 122.7h1.0M166.7 132.4h1.0M167.5 116.9h1.0M157.9 123.3h1.0M176.6 115.0h1.0M163.6 118.1h1.0M155.0 124.1h1.0M157.5 128.6h1.0M163.2 128.9h1.0M171.0 125.7h1.0M158.5 121.7h1.0M159.6 116.9h1.0M183.1 128.5h1.0M165.3 120.4h1.0M160.2 124.2h1.0M164.9 125.4h1.0M154.1 118.4h1.0M169.1 126.0h1.0M172.7 116.4h1.0M159.7 126.2h1.0M173.0 129.0h1.0M162.2 120.1h1.0M167.0 132.1h1.0M158.4 130.9h1.0M157.9 125.4h1.0M152.0 124.6h1.0M166.4 125.6h1.0M162.2 135.1h1.0M162.5 131.6h1.0M155.1 121.7h1.0M154.8 121.5h1.0M159.3 129.9h1.0M168.5 122.6h1.0M167.1 122.9h1.0M158.9 118.7h1.0M167.1 128.1h1.0M179.4 115.6h1.0M165.5 125.8h1.0M181.6 115.6h1.0M168.2 118.9h1.0M175.8 129.3h1.0M160.2 126.0h1.0M174.5 122.2h1.0M154.6 118.8h1.0M166.6 131.7h1.0M161.8 127.0h1.0M153.1 121.9h1.0M174.1 129.6h1.0M168.7 128.9h1.0M175.5 121.4h1.0M166.2 129.7h1.0M166.7 119.0h1.0M159.8 124.2h1.0M160.8 117.8h1.0M158.1 118.0h1.0M156.5 116.6h1.0M175.0 119.0h1.0M168.3 133.3h1.0M159.1 116.5h1.0M161.0 122.3h1.0M172.7 118.7h1.0M167.8 124.9h1.0M166.2 125.4h1.0M154.3 125.8h1.0M160.9 115.4h1.0M155.0 122.9h1.0M172.1 130.9h1.0M161.8 121.6h1.0M161.1 124.2h1.0M156.5 123.5h1.0M170.9 118.5h1.0M182.1 119.5h1.0M169.4 123.9h1.0M172.3 122.7h1.0M154.1 124.0h1.0M166.0 120.1h1.0M166.4 120.2h1.0M177.0 122.9h1.0M164.6 128.8h1.0M156.6 119.7h1.0M164.0 119.2h1.0M160.9 130.2h1.0M176.7 121.6h1.0" stroke="#ff3030" stroke-width="1.0" stroke-opacity="0.45" fill="none"/>
<path d="M189.6 102.6h1.0M174.6 134.3h1.0M192.5 90.9h1.0M200.8 83.3h1.0M186.7 104.4h1.0M186.9 110.9h1.0M201.4 88.7h1.0M183.6 107.8h1.0M184.9 115.3h1.0M190.2 97.9h1.0M198.0 85.2h1.0M198.1 87.1h1.0M188.4 97.4h1.0M190.2 97.5h1.0M193.6 100.8h1.0M189.5 105.5h1.0M185.6 102.6h1.0M183.6 99.2h1.0M198.8 83.9h1.0M191.0 99.7h1.0M216.8 58.5h1.0M198.0 99.3h1.0M186.5 109.5h1.0M192.8 96.2h1.0M195.6 89.9h1.0M196.1 91.1h1.0M196.5 90.2h1.0M196.6 96.8h1.0M191.6 99.3h1.0M198.2 84.0h1.0M211.1 81.2h1.0M189.1 107.4h1.0M189.6 100.5h1.0M198.7 74.3h1.0M203.2 73.9h1.0M199.6 72.5h1.0M203.0 69.4h1.0M192.4 97.4h1.0M190.9 96.7h1.0M198.3 94.4h1.0M198.4 77.0h1.0M206.8 68.5h1.0M205.8 70.9h1.0M177.5 110.1h1.0M199.3 81.0h1.0" stroke="#404040" stroke-width="1.0" stroke-opacity="0.45" fill="none"/>
<path d="M204.3 73.9h1.0M204.4 78.1h1.0M206.5 75.6h1.0M202.0 79.3h1.0M201.5 75.5h1.0M203.8 75.3h1.0M206.4 72.6h1.0M204.3 69.7h1.0M203.3 75.7h1.0M205.7 73.7h1.0" stroke="#ff3030" stroke-width="1.0" stroke-opacity="0.6" fill="none"/>
<path d="M168.1 95.0h1.0M154.5 107.1h1.0M166.0 104.1h1.0M166.2 111.8h1.0M171.8 92.7h1.0M165.6 97.8h1.0M163.0 102.5h1.0M173.5 105.6h1.0M169.9 108.9h1.0M165.2 108.8h1.0M166.0 98.1h1.0M168.6 113.8h1.0M174.8 103.4h1.0M178.2 90.7h1.0M162.9 102.6h1.0M176.7 90.5h1.0M170.5 102.9h1.0M172.3 102.1h1.0M175.7 93.6h1.0M164.9 103.5h1.0M175.0 101.5h1.0M163.0 112.8h1.0M167.6 118.0h1.0M165.5 97.0h1.0M179.6 105.1h1.0" stroke="#505050" stroke-width="1.0" stroke-opacity="0.4" fill="none"/>
<line x1="149.20" y1="27.10" x2="261.20" y2="27.10" stroke="#8c8c8c" stroke-width="1.1"/>
<line x1="261.20" y1="27.10" x2="261.20" y2="138.20" stroke="#9a9a9a" stroke-width="1"/>
<line x1="149.20" y1="27.10" x2="149.20" y2="138.20" stroke="#8a8a8a" stroke-width="0.8"/>
<line x1="149.20" y1="138.20" x2="261.20" y2="138.20" stroke="#666" stroke-width="0.8"/>
<path d="M148.7 138.2h1.1M149.2 137.7v1.1M148.7 129.8h1.1M157.6 137.7v1.1M148.7 124.9h1.1M162.6 137.7v1.1M148.7 121.5h1.1M166.1 137.7v1.1M148.7 118.8h1.1M168.8 137.7v1.1M148.7 116.6h1.1M171.0 137.7v1.1M148.7 114.7h1.1M172.9 137.7v1.1M148.7 113.1h1.1M174.5 137.7v1.1M148.7 111.7h1.1M175.9 137.7v1.1M148.7 110.4h1.1M177.2 137.7v1.1M148.7 102.1h1.1M185.6 137.7v1.1M148.7 97.2h1.1M190.6 137.7v1.1M148.7 93.7h1.1M194.1 137.7v1.1M148.7 91.0h1.1M196.8 137.7v1.1M148.7 88.8h1.1M199.0 137.7v1.1M148.7 87.0h1.1M200.9 137.7v1.1M148.7 85.3h1.1M202.5 137.7v1.1M148.7 83.9h1.1M203.9 137.7v1.1M148.7 82.6h1.1M205.2 137.7v1.1M148.7 74.3h1.1M213.6 137.7v1.1M148.7 69.4h1.1M218.6 137.7v1.1M148.7 65.9h1.1M222.1 137.7v1.1M148.7 63.2h1.1M224.8 137.7v1.1M148.7 61.0h1.1M227.0 137.7v1.1M148.7 59.2h1.1M228.9 137.7v1.1M148.7 57.6h1.1M230.5 137.7v1.1M148.7 56.1h1.1M231.9 137.7v1.1M148.7 54.9h1.1M233.2 137.7v1.1M148.7 46.5h1.1M241.6 137.7v1.1M148.7 41.6h1.1M246.6 137.7v1.1M148.7 38.2h1.1M250.1 137.7v1.1M148.7 35.5h1.1M252.8 137.7v1.1M148.7 33.3h1.1M255.0 137.7v1.1M148.7 31.4h1.1M256.9 137.7v1.1M148.7 29.8h1.1M258.5 137.7v1.1M148.7 28.4h1.1M259.9 137.7v1.1" stroke="#555" stroke-width="0.7" fill="none"/>
<text x="146.39999999999998" y="139.7" font-size="4.0" text-anchor="middle" fill="#7a7060">0</text>
<text x="149.2" y="143.2" font-size="4.0" text-anchor="middle" fill="#7a7060">0</text>
<text x="146.39999999999998" y="111.92499999999998" font-size="4.0" text-anchor="middle" fill="#7a7060">1</text>
<text x="177.2" y="143.2" font-size="4.0" text-anchor="middle" fill="#7a7060">1</text>
<text x="146.39999999999998" y="84.14999999999999" font-size="4.0" text-anchor="middle" fill="#7a7060">2</text>
<text x="205.2" y="143.2" font-size="4.0" text-anchor="middle" fill="#7a7060">2</text>
<text x="146.39999999999998" y="56.375" font-size="4.0" text-anchor="middle" fill="#7a7060">3</text>
<text x="233.2" y="143.2" font-size="4.0" text-anchor="middle" fill="#7a7060">3</text>
<text x="146.39999999999998" y="28.599999999999994" font-size="4.0" text-anchor="middle" fill="#7a7060">4</text>
<text x="261.2" y="143.2" font-size="4.0" text-anchor="middle" fill="#7a7060">4</text>
<rect x="181.2" y="28.7" width="78.2" height="109.1" fill="none" stroke="#111" stroke-width="1" stroke-dasharray="1 0.8"/>
<line x1="179.16" y1="27.10" x2="179.16" y2="138.20" stroke="#ff3a3a" stroke-width="1.1"/>
<line x1="149.20" y1="115.42" x2="261.20" y2="115.42" stroke="#ff4848" stroke-width="1.1"/>
<circle cx="179.2" cy="56.8" r="2.1" fill="#ff0000"/>
<circle cx="233.8" cy="115.4" r="2.1" fill="#ff0000"/>
<circle cx="179.2" cy="115.4" r="1.5" fill="#fff" stroke="#ff5a5a" stroke-width="0.7"/>
<text x="192.3" y="37.8" font-size="10" font-weight="bold" fill="#000">150 µg/mL</text>
<text x="256.3" y="102.8" font-size="8.3" font-weight="bold" textLength="36.7" lengthAdjust="spacing" transform="rotate(-90 256.3 102.8)" fill="#000" stroke="#000" stroke-width="0.35">8.4 ± 1.26</text>
<path d="M36.2 246.2h1.0M45.2 244.2h1.0M35.4 249.5h1.0M32.8 246.4h1.0M37.2 247.0h1.0M40.1 245.2h1.0M41.9 242.4h1.0M43.3 245.2h1.0M45.8 245.0h1.0M39.8 244.9h1.0M42.5 248.9h1.0M39.8 247.5h1.0M36.9 246.5h1.0M42.7 243.4h1.0M42.4 243.2h1.0M50.8 239.7h1.0M43.8 251.0h1.0M36.6 247.8h1.0M43.8 253.1h1.0M39.1 249.3h1.0M49.2 252.7h1.0M31.0 243.9h1.0M36.8 245.1h1.0M36.8 251.2h1.0M41.1 246.4h1.0M39.7 245.1h1.0M31.6 242.0h1.0M30.1 245.1h1.0M41.5 247.1h1.0M48.6 247.6h1.0M48.6 245.2h1.0M38.2 246.6h1.0M43.0 249.0h1.0M35.6 251.7h1.0M32.4 244.3h1.0M47.3 249.7h1.0M44.2 248.3h1.0M38.6 244.9h1.0M38.4 247.8h1.0M45.6 243.6h1.0M42.3 251.2h1.0M38.6 245.0h1.0M42.0 251.8h1.0M40.4 252.5h1.0M38.2 251.0h1.0M36.5 247.2h1.0M45.6 249.6h1.0M37.9 252.1h1.0M33.9 243.7h1.0M50.5 250.4h1.0M47.4 247.7h1.0M43.4 246.6h1.0M40.1 249.1h1.0M41.6 246.3h1.0M32.5 245.7h1.0M40.4 247.8h1.0M42.0 244.0h1.0M39.4 249.5h1.0M42.9 250.9h1.0M36.2 247.0h1.0M41.5 250.7h1.0M31.8 246.5h1.0M40.3 247.8h1.0M37.0 249.2h1.0M33.1 245.8h1.0M38.2 245.8h1.0M40.5 257.3h1.0M37.1 248.7h1.0M45.6 246.9h1.0M36.6 246.0h1.0M45.6 249.2h1.0M44.4 251.2h1.0M37.1 247.2h1.0M48.3 245.0h1.0M32.9 254.5h1.0M43.3 252.4h1.0M40.7 249.4h1.0M44.6 255.9h1.0M31.7 249.7h1.0M33.8 245.0h1.0M35.8 251.2h1.0M40.5 247.1h1.0M40.8 250.4h1.0M40.4 246.1h1.0M38.9 245.4h1.0M36.4 243.3h1.0M32.7 247.5h1.0M37.9 244.1h1.0M43.2 246.1h1.0M45.9 248.9h1.0M37.5 242.7h1.0M46.2 249.3h1.0M32.8 247.2h1.0M44.5 239.3h1.0M34.3 244.8h1.0M41.6 250.2h1.0M35.0 246.7h1.0M34.9 249.5h1.0M37.2 248.1h1.0M48.1 252.3h1.0M36.6 246.9h1.0M43.7 252.6h1.0M41.1 246.3h1.0M41.9 246.2h1.0M42.0 244.7h1.0M43.7 240.1h1.0M33.6 253.2h1.0M40.5 251.5h1.0M42.2 250.8h1.0M37.0 249.5h1.0M42.2 244.6h1.0M34.6 248.8h1.0M44.2 249.3h1.0M36.4 251.4h1.0M38.7 249.7h1.0M44.6 248.9h1.0M46.2 247.7h1.0M37.1 252.4h1.0M36.7 247.9h1.0M45.7 245.5h1.0M24.4 246.9h1.0M47.6 251.4h1.0M47.4 244.6h1.0M34.4 245.0h1.0M46.8 246.4h1.0M42.2 251.5h1.0M42.8 252.3h1.0M27.5 247.8h1.0M37.5 251.0h1.0M39.2 252.0h1.0M38.0 244.6h1.0M38.1 244.6h1.0M38.7 245.5h1.0M24.5 243.7h1.0M39.1 244.6h1.0M36.4 251.5h1.0M39.7 243.7h1.0M37.5 247.2h1.0M40.2 246.1h1.0M41.8 242.3h1.0M50.0 245.8h1.0M35.7 242.4h1.0M49.5 247.1h1.0M38.9 248.8h1.0M35.3 250.0h1.0M32.2 248.2h1.0M45.0 253.0h1.0M31.9 248.0h1.0M45.2 247.8h1.0M42.1 249.2h1.0M37.1 255.0h1.0M36.5 254.8h1.0M42.9 245.1h1.0M41.0 250.7h1.0M44.3 242.9h1.0M40.2 249.9h1.0M37.4 246.4h1.0M43.2 252.2h1.0M33.6 249.8h1.0M44.9 248.1h1.0M40.5 245.6h1.0M34.0 242.1h1.0M34.6 244.5h1.0M38.4 252.4h1.0M30.2 247.8h1.0M47.9 247.9h1.0M45.5 249.5h1.0M34.1 245.8h1.0M39.6 242.3h1.0M49.5 248.8h1.0M42.4 243.8h1.0M34.6 243.1h1.0M28.3 251.4h1.0M31.1 241.9h1.0M46.8 241.7h1.0M41.9 246.5h1.0M32.9 242.1h1.0M44.1 246.6h1.0M38.2 243.8h1.0M36.5 245.5h1.0M37.3 250.5h1.0M37.6 246.7h1.0M49.5 247.8h1.0M34.9 249.3h1.0M37.9 251.4h1.0M47.6 249.9h1.0M48.5 251.4h1.0M34.7 243.9h1.0M51.7 253.7h1.0M46.3 247.1h1.0M31.9 249.8h1.0M50.2 251.4h1.0M32.0 245.4h1.0M44.0 250.1h1.0M33.8 243.7h1.0M30.3 248.4h1.0M44.9 246.3h1.0M42.5 247.9h1.0M39.7 245.4h1.0M41.3 244.4h1.0M39.6 249.0h1.0M38.7 247.6h1.0M34.2 241.9h1.0M43.4 249.3h1.0M40.3 241.5h1.0M38.8 248.9h1.0M37.0 249.5h1.0M38.6 253.2h1.0M31.7 250.6h1.0M38.5 253.4h1.0M34.7 249.6h1.0M47.4 245.0h1.0M34.9 247.9h1.0M37.7 249.6h1.0M40.3 250.9h1.0M44.6 249.7h1.0M42.8 252.3h1.0M40.3 251.7h1.0M52.2 240.7h1.0M40.1 246.7h1.0M42.0 250.5h1.0M55.4 244.8h1.0M35.2 242.7h1.0M45.6 249.5h1.0M42.7 247.8h1.0M32.8 251.9h1.0M36.7 252.9h1.0M44.8 242.8h1.0M32.1 236.4h1.0M39.2 250.0h1.0M45.4 252.8h1.0M38.9 242.9h1.0M41.7 244.0h1.0M36.5 246.1h1.0M36.7 242.7h1.0M36.7 248.8h1.0M38.2 246.7h1.0M43.7 244.8h1.0M40.6 248.6h1.0M51.2 245.6h1.0M43.3 248.2h1.0M41.7 246.0h1.0M52.7 246.6h1.0M39.6 254.1h1.0M35.7 247.4h1.0M41.0 252.3h1.0M34.1 250.5h1.0M43.1 253.0h1.0M47.8 244.6h1.0M43.7 248.5h1.0M37.9 248.9h1.0M39.4 243.4h1.0M42.9 245.1h1.0M46.8 248.1h1.0M37.9 254.5h1.0M37.9 245.4h1.0M46.3 248.2h1.0M41.4 248.7h1.0M42.1 245.0h1.0M42.9 249.5h1.0M35.9 247.9h1.0M39.4 244.6h1.0M46.1 245.5h1.0M39.3 249.6h1.0M39.1 242.7h1.0M41.9 243.7h1.0M42.4 241.2h1.0M54.4 247.3h1.0M35.7 247.0h1.0M41.0 244.0h1.0M51.5 245.7h1.0M40.4 247.1h1.0M42.3 247.8h1.0M32.1 248.8h1.0M45.7 249.5h1.0M45.1 249.5h1.0M44.8 246.0h1.0M39.2 248.6h1.0M42.3 252.1h1.0M39.8 247.4h1.0M45.0 241.9h1.0M40.1 243.0h1.0M44.6 254.1h1.0M32.7 250.5h1.0M38.4 245.0h1.0M24.3 247.7h1.0M39.4 247.3h1.0M44.5 247.8h1.0M38.8 247.4h1.0M53.4 250.5h1.0M34.7 243.8h1.0M38.3 251.0h1.0M35.0 248.1h1.0M37.4 242.5h1.0M37.6 244.0h1.0M32.0 247.8h1.0M34.7 247.7h1.0M51.6 249.1h1.0M38.8 249.2h1.0M45.3 248.1h1.0M33.1 243.3h1.0M39.6 249.0h1.0M43.2 245.5h1.0M39.2 246.1h1.0M37.3 246.2h1.0M39.2 248.4h1.0M40.4 245.1h1.0M44.9 246.8h1.0M46.9 247.0h1.0M32.8 249.3h1.0M28.7 254.9h1.0M39.1 245.1h1.0M40.2 245.0h1.0M44.2 249.0h1.0M46.2 247.9h1.0M36.5 246.6h1.0M51.7 250.3h1.0M41.6 245.1h1.0M30.3 245.4h1.0M45.6 244.5h1.0M41.7 244.4h1.0M41.8 253.7h1.0M31.3 246.0h1.0M38.5 248.9h1.0M41.1 243.7h1.0M39.3 244.0h1.0M44.0 244.6h1.0M47.2 247.5h1.0M48.7 238.0h1.0M47.2 247.4h1.0M39.4 250.9h1.0M49.8 243.9h1.0M41.7 252.2h1.0M45.0 240.9h1.0M38.8 244.1h1.0M32.4 243.3h1.0M27.5 244.3h1.0M41.2 246.0h1.0M36.4 251.9h1.0M40.2 249.4h1.0M45.2 245.4h1.0M31.6 248.3h1.0M30.3 246.5h1.0M41.7 249.6h1.0M42.2 249.9h1.0M38.7 246.4h1.0M37.3 245.0h1.0M31.3 247.6h1.0M39.7 250.6h1.0M36.0 253.0h1.0" stroke="#ff0000" stroke-width="1.0" stroke-opacity="0.6" fill="none"/>
<path d="M57.5 249.7h1.0M31.0 248.3h1.0M33.2 256.7h1.0M34.4 252.1h1.0M48.0 248.3h1.0M34.1 244.5h1.0M45.1 246.3h1.0M42.9 241.6h1.0M30.9 259.8h1.0M41.8 247.3h1.0M30.2 248.6h1.0M39.1 253.3h1.0M46.6 247.5h1.0M38.4 251.7h1.0M32.8 245.4h1.0M36.9 249.5h1.0M38.8 244.8h1.0M43.2 252.4h1.0M24.9 245.8h1.0M44.4 237.5h1.0M39.3 248.3h1.0M40.3 250.3h1.0M42.0 246.7h1.0M38.9 250.1h1.0M36.4 253.4h1.0M41.1 247.4h1.0M45.8 247.7h1.0M43.0 251.0h1.0M40.3 249.6h1.0M31.4 253.2h1.0M42.1 246.7h1.0M30.5 255.3h1.0M34.5 238.3h1.0M41.4 247.3h1.0M41.1 242.3h1.0M49.3 253.9h1.0M47.5 245.4h1.0M44.2 248.1h1.0M37.4 242.2h1.0M40.0 242.7h1.0M38.1 256.7h1.0M54.6 240.7h1.0M44.0 255.7h1.0M34.7 240.3h1.0M33.1 248.0h1.0M50.5 253.8h1.0M32.9 243.9h1.0M43.2 247.2h1.0M41.6 253.0h1.0M49.0 251.3h1.0M32.9 245.1h1.0M44.0 255.0h1.0M41.9 252.2h1.0M46.8 237.0h1.0M51.5 251.4h1.0M41.0 245.4h1.0M38.3 245.1h1.0M47.5 242.0h1.0M28.4 243.0h1.0M32.0 250.5h1.0M30.1 241.3h1.0M27.0 252.3h1.0M26.4 237.9h1.0M47.1 245.9h1.0M47.5 254.1h1.0M41.1 244.3h1.0M48.9 236.4h1.0M40.5 251.2h1.0M36.1 244.5h1.0M31.2 252.7h1.0M46.7 250.5h1.0M47.0 246.7h1.0M50.8 244.3h1.0M33.6 245.8h1.0M37.9 246.4h1.0M29.0 234.5h1.0M49.8 253.2h1.0M46.2 257.7h1.0M44.6 244.2h1.0M40.2 246.5h1.0M39.1 255.5h1.0M37.3 238.0h1.0M49.4 251.1h1.0M35.0 255.5h1.0M47.7 244.9h1.0M42.7 243.8h1.0M31.9 234.7h1.0M28.3 256.4h1.0M33.8 254.8h1.0M40.0 249.0h1.0M29.6 250.3h1.0M45.6 247.7h1.0M49.8 251.1h1.0M44.9 256.0h1.0M26.2 250.4h1.0M47.6 242.9h1.0M52.8 250.7h1.0M37.0 244.6h1.0M44.7 245.0h1.0M38.1 250.3h1.0M35.0 249.6h1.0M48.6 247.0h1.0M35.7 232.0h1.0M47.5 246.3h1.0M54.7 252.0h1.0M39.3 248.4h1.0M56.0 250.1h1.0M29.4 241.5h1.0M48.0 259.3h1.0M40.4 253.6h1.0M61.8 242.1h1.0M40.7 245.1h1.0M33.7 247.5h1.0M54.0 243.0h1.0M27.5 255.3h1.0M44.1 245.3h1.0M34.0 254.0h1.0M51.9 254.3h1.0M39.5 244.7h1.0M47.5 251.7h1.0M40.0 249.5h1.0M31.1 244.3h1.0M55.3 243.6h1.0M42.3 234.8h1.0M30.7 248.9h1.0M37.7 242.2h1.0M48.6 242.9h1.0M27.8 254.9h1.0M59.4 254.5h1.0M38.2 247.5h1.0M37.2 259.5h1.0M51.1 246.8h1.0M42.1 245.9h1.0M31.9 245.1h1.0M48.0 244.7h1.0M44.1 239.9h1.0M49.8 249.0h1.0M32.5 240.1h1.0M30.8 244.8h1.0M45.5 244.3h1.0M36.6 248.4h1.0M35.3 251.8h1.0M45.5 243.2h1.0M34.1 241.4h1.0M51.0 250.8h1.0" stroke="#ff3030" stroke-width="1.0" stroke-opacity="0.45" fill="none"/>
<path d="M31.9 250.4h1.0M33.3 258.4h1.0M38.4 250.0h1.0M41.2 242.8h1.0M44.9 250.5h1.0M52.2 242.1h1.0M50.2 246.7h1.0M40.6 251.0h1.0M35.9 255.5h1.0M30.1 245.1h1.0M44.5 245.0h1.0M42.3 254.1h1.0M36.7 249.8h1.0M37.5 243.4h1.0M37.8 251.1h1.0M38.3 256.2h1.0M41.0 251.8h1.0M37.8 245.0h1.0M31.1 253.2h1.0M39.0 254.0h1.0M42.1 253.7h1.0M51.5 249.2h1.0M46.2 254.4h1.0M42.9 248.3h1.0M38.3 245.6h1.0M29.1 241.8h1.0M35.3 249.8h1.0M28.9 241.5h1.0M37.9 245.6h1.0M46.3 248.7h1.0M46.1 245.6h1.0M45.1 241.4h1.0M38.8 241.7h1.0M45.7 244.6h1.0M36.7 248.4h1.0M24.7 244.9h1.0M39.6 247.0h1.0M38.9 247.3h1.0M26.2 247.3h1.0" stroke="#404040" stroke-width="1.0" stroke-opacity="0.35" fill="none"/>
<path d="M78.1 209.1h1.0M52.4 234.9h1.0M62.0 220.7h1.0M53.3 228.0h1.0M70.0 199.1h1.0M72.1 205.9h1.0M74.2 205.6h1.0M59.6 227.3h1.0M63.1 222.5h1.0M69.2 220.0h1.0M64.2 224.5h1.0M65.1 218.2h1.0M64.3 228.8h1.0M65.0 225.9h1.0M61.7 215.3h1.0M66.4 219.8h1.0M50.1 234.9h1.0M59.1 219.9h1.0M51.3 238.0h1.0M61.9 217.4h1.0M56.4 231.6h1.0M67.2 219.9h1.0M73.4 206.1h1.0M52.1 236.5h1.0M56.0 230.4h1.0M65.5 216.7h1.0M75.0 205.5h1.0M69.3 205.1h1.0M66.5 216.9h1.0M62.2 224.5h1.0M58.9 221.2h1.0M66.0 222.5h1.0M67.0 215.0h1.0M64.0 210.3h1.0M57.7 228.2h1.0M49.0 232.8h1.0M55.4 233.5h1.0M59.5 229.0h1.0M52.7 236.8h1.0M65.4 220.5h1.0M50.5 241.3h1.0M60.1 227.7h1.0M65.6 211.9h1.0M69.6 208.5h1.0M64.7 219.4h1.0M73.0 210.6h1.0M57.6 209.2h1.0M56.0 232.2h1.0M71.9 199.0h1.0M55.1 239.4h1.0M61.3 227.7h1.0M47.9 235.6h1.0M72.2 213.7h1.0M68.8 218.7h1.0M56.2 231.0h1.0" stroke="#c83030" stroke-width="1.0" stroke-opacity="0.45" fill="none"/>
<path d="M56.6 213.1h1.0M60.3 224.9h1.0M64.1 218.2h1.0M70.1 212.1h1.0M64.3 212.3h1.0M65.3 223.4h1.0M74.0 216.1h1.0M74.8 206.8h1.0M59.8 223.4h1.0M47.0 230.5h1.0M54.2 234.1h1.0M71.8 212.8h1.0M58.7 228.4h1.0M56.8 234.6h1.0M59.0 231.4h1.0M76.3 200.5h1.0M63.3 218.5h1.0M59.6 229.7h1.0M56.8 223.1h1.0M53.5 235.1h1.0" stroke="#555" stroke-width="1.0" stroke-opacity="0.35" fill="none"/>
<path d="M77.0 195.8h1.0M74.9 196.4h1.0M77.9 191.6h1.0M78.0 194.0h1.0M78.9 195.7h1.0M73.9 198.2h1.0M78.8 194.1h1.0M74.7 199.4h1.0M77.0 193.7h1.0M79.2 194.3h1.0M81.8 198.2h1.0M75.1 194.5h1.0M72.9 193.0h1.0M77.1 194.5h1.0M80.8 197.8h1.0M75.6 197.2h1.0M84.9 191.0h1.0M70.3 200.3h1.0M81.8 195.0h1.0M80.6 191.3h1.0M80.5 195.1h1.0M73.9 197.5h1.0M81.3 192.0h1.0M80.7 190.0h1.0M80.9 193.2h1.0" stroke="#c83030" stroke-width="1.0" stroke-opacity="0.55" fill="none"/>
<line x1="21.60" y1="152.60" x2="134.20" y2="152.60" stroke="#8c8c8c" stroke-width="1.1"/>
<line x1="134.20" y1="152.60" x2="134.20" y2="263.30" stroke="#9a9a9a" stroke-width="1"/>
<line x1="21.60" y1="152.60" x2="21.60" y2="263.30" stroke="#8a8a8a" stroke-width="0.8"/>
<line x1="21.60" y1="263.30" x2="134.20" y2="263.30" stroke="#666" stroke-width="0.8"/>
<path d="M21.1 263.3h1.1M21.6 262.8v1.1M21.1 255.0h1.1M30.1 262.8v1.1M21.1 250.1h1.1M35.0 262.8v1.1M21.1 246.6h1.1M38.5 262.8v1.1M21.1 244.0h1.1M41.3 262.8v1.1M21.1 241.8h1.1M43.5 262.8v1.1M21.1 239.9h1.1M45.4 262.8v1.1M21.1 238.3h1.1M47.0 262.8v1.1M21.1 236.9h1.1M48.5 262.8v1.1M21.1 235.6h1.1M49.8 262.8v1.1M21.1 227.3h1.1M58.2 262.8v1.1M21.1 222.4h1.1M63.2 262.8v1.1M21.1 219.0h1.1M66.7 262.8v1.1M21.1 216.3h1.1M69.4 262.8v1.1M21.1 214.1h1.1M71.7 262.8v1.1M21.1 212.2h1.1M73.5 262.8v1.1M21.1 210.6h1.1M75.2 262.8v1.1M21.1 209.2h1.1M76.6 262.8v1.1M21.1 207.9h1.1M77.9 262.8v1.1M21.1 199.6h1.1M86.4 262.8v1.1M21.1 194.7h1.1M91.3 262.8v1.1M21.1 191.3h1.1M94.8 262.8v1.1M21.1 188.6h1.1M97.6 262.8v1.1M21.1 186.4h1.1M99.8 262.8v1.1M21.1 184.6h1.1M101.7 262.8v1.1M21.1 183.0h1.1M103.3 262.8v1.1M21.1 181.5h1.1M104.8 262.8v1.1M21.1 180.3h1.1M106.0 262.8v1.1M21.1 171.9h1.1M114.5 262.8v1.1M21.1 167.1h1.1M119.5 262.8v1.1M21.1 163.6h1.1M123.0 262.8v1.1M21.1 160.9h1.1M125.7 262.8v1.1M21.1 158.7h1.1M128.0 262.8v1.1M21.1 156.9h1.1M129.8 262.8v1.1M21.1 155.3h1.1M131.5 262.8v1.1M21.1 153.9h1.1M132.9 262.8v1.1" stroke="#555" stroke-width="0.7" fill="none"/>
<text x="18.8" y="264.8" font-size="4.0" text-anchor="middle" fill="#7a7060">0</text>
<text x="21.6" y="268.3" font-size="4.0" text-anchor="middle" fill="#7a7060">0</text>
<text x="18.8" y="237.125" font-size="4.0" text-anchor="middle" fill="#7a7060">1</text>
<text x="49.75" y="268.3" font-size="4.0" text-anchor="middle" fill="#7a7060">1</text>
<text x="18.8" y="209.45" font-size="4.0" text-anchor="middle" fill="#7a7060">2</text>
<text x="77.9" y="268.3" font-size="4.0" text-anchor="middle" fill="#7a7060">2</text>
<text x="18.8" y="181.775" font-size="4.0" text-anchor="middle" fill="#7a7060">3</text>
<text x="106.04999999999998" y="268.3" font-size="4.0" text-anchor="middle" fill="#7a7060">3</text>
<text x="18.8" y="154.1" font-size="4.0" text-anchor="middle" fill="#7a7060">4</text>
<text x="134.2" y="268.3" font-size="4.0" text-anchor="middle" fill="#7a7060">4</text>
<rect x="53.7" y="154.2" width="78.7" height="108.7" fill="none" stroke="#111" stroke-width="1" stroke-dasharray="1 0.8"/>
<line x1="51.72" y1="152.60" x2="51.72" y2="263.30" stroke="#ff3a3a" stroke-width="1.1"/>
<line x1="21.60" y1="240.61" x2="134.20" y2="240.61" stroke="#ff4848" stroke-width="1.1"/>
<circle cx="51.7" cy="182.2" r="2.1" fill="#ff0000"/>
<circle cx="106.6" cy="240.6" r="2.1" fill="#ff0000"/>
<circle cx="51.7" cy="240.6" r="1.5" fill="#fff" stroke="#ff5a5a" stroke-width="0.7"/>
<text x="66.2" y="164.6" font-size="10" font-weight="bold" fill="#000">300 µg/mL</text>
<text x="128.6" y="227.7" font-size="8.3" font-weight="bold" textLength="41.3" lengthAdjust="spacing" transform="rotate(-90 128.6 227.7)" fill="#000" stroke="#000" stroke-width="0.35">16.36 ± 2.9</text>
<path d="M162.6 249.4h1.0M161.0 250.9h1.0M168.6 246.6h1.0M159.9 254.2h1.0M169.5 246.6h1.0M175.0 252.1h1.0M155.1 247.7h1.0M169.0 252.1h1.0M171.8 253.0h1.0M166.9 256.2h1.0M172.1 249.6h1.0M172.7 248.0h1.0M175.8 254.4h1.0M185.0 243.2h1.0M171.7 249.8h1.0M164.9 253.9h1.0M164.2 243.2h1.0M163.0 251.4h1.0M173.9 244.7h1.0M171.9 259.5h1.0M172.5 242.3h1.0M171.1 249.1h1.0M178.9 249.6h1.0M176.1 248.6h1.0M175.6 253.7h1.0M166.1 246.8h1.0M168.1 248.4h1.0M162.7 249.0h1.0M166.3 251.9h1.0M170.4 253.9h1.0M163.1 248.8h1.0M166.4 247.1h1.0M181.2 249.0h1.0M168.9 250.6h1.0M161.5 251.9h1.0M163.0 247.6h1.0M169.5 244.9h1.0M174.7 250.3h1.0M169.4 252.8h1.0M174.8 241.3h1.0M171.7 255.2h1.0M163.7 249.2h1.0M175.7 250.1h1.0M167.4 245.5h1.0M180.5 250.0h1.0M166.7 255.7h1.0M169.1 253.8h1.0M166.9 249.6h1.0M168.4 250.0h1.0M172.5 252.1h1.0M168.9 251.8h1.0M176.6 255.0h1.0M172.3 254.9h1.0M178.8 251.8h1.0M170.4 252.2h1.0M177.2 250.1h1.0M176.7 253.7h1.0M169.2 244.5h1.0M184.2 255.5h1.0M178.4 246.6h1.0M173.0 247.9h1.0M168.9 244.5h1.0M169.6 245.1h1.0M169.1 254.4h1.0M171.6 248.6h1.0M163.7 247.4h1.0M170.3 246.6h1.0M166.7 248.1h1.0M179.3 251.5h1.0M174.3 245.2h1.0M179.4 249.9h1.0M183.4 251.0h1.0M172.7 249.1h1.0M181.3 251.0h1.0M172.2 252.0h1.0M173.6 249.2h1.0M164.8 240.9h1.0M170.6 248.6h1.0M178.1 249.2h1.0M172.9 251.2h1.0M168.0 248.6h1.0M170.1 253.8h1.0M166.0 248.2h1.0M166.4 248.9h1.0M162.1 249.7h1.0M176.3 247.9h1.0M176.2 250.2h1.0M169.5 247.5h1.0M162.6 248.1h1.0M168.8 247.9h1.0M181.3 249.4h1.0M162.7 246.9h1.0M167.3 250.4h1.0M167.5 245.4h1.0M174.6 250.0h1.0M163.0 245.6h1.0M171.6 248.8h1.0M165.5 250.0h1.0M168.1 253.2h1.0M163.3 247.8h1.0M173.1 248.4h1.0M167.4 249.6h1.0M166.8 248.4h1.0M176.2 249.1h1.0M172.1 252.8h1.0M183.3 253.3h1.0M172.5 247.5h1.0M170.6 249.1h1.0M170.8 244.5h1.0M185.5 242.4h1.0M177.1 246.7h1.0M168.6 247.6h1.0M171.9 247.7h1.0M167.3 249.4h1.0M173.9 251.8h1.0M167.4 258.8h1.0M167.0 247.2h1.0M172.6 247.6h1.0M177.7 249.4h1.0M174.9 249.1h1.0M174.3 246.3h1.0M170.4 246.6h1.0M156.7 249.5h1.0M169.2 250.6h1.0M169.0 247.7h1.0M173.1 246.9h1.0M179.9 241.9h1.0M174.4 252.7h1.0M160.4 248.3h1.0M170.2 252.7h1.0M168.8 251.3h1.0M174.1 241.6h1.0M169.8 251.1h1.0M159.4 250.5h1.0M165.0 251.8h1.0M168.3 246.8h1.0M158.6 251.5h1.0M169.4 255.4h1.0M168.5 249.3h1.0M176.0 246.7h1.0M169.4 249.8h1.0M166.5 249.3h1.0M169.3 252.1h1.0M170.1 252.9h1.0M175.4 249.6h1.0M164.7 253.8h1.0M157.4 251.6h1.0M185.4 252.7h1.0M174.2 250.4h1.0M170.2 247.0h1.0M183.5 249.5h1.0M163.6 246.1h1.0M165.5 248.7h1.0M167.5 250.3h1.0M172.7 252.8h1.0M167.4 249.5h1.0M174.3 253.6h1.0M168.0 247.3h1.0M177.2 254.2h1.0M172.6 254.5h1.0M160.6 253.0h1.0M169.8 255.5h1.0M163.5 249.7h1.0M169.2 252.5h1.0M169.9 251.4h1.0M182.5 247.3h1.0M168.6 257.4h1.0M160.9 250.9h1.0M170.5 248.6h1.0M163.4 246.5h1.0M180.2 249.1h1.0M173.9 252.0h1.0M178.7 246.4h1.0M167.6 246.7h1.0M164.0 242.5h1.0M171.5 242.4h1.0M162.1 250.8h1.0M164.4 245.3h1.0M165.6 249.2h1.0M169.0 253.3h1.0M161.3 247.7h1.0M158.2 245.7h1.0M177.9 257.6h1.0M166.8 245.4h1.0M168.8 252.7h1.0M173.2 244.2h1.0M172.3 248.9h1.0M166.2 249.4h1.0M167.3 245.1h1.0M179.0 250.7h1.0M177.0 242.5h1.0M174.1 253.0h1.0M179.3 251.6h1.0M159.3 253.9h1.0M170.7 248.0h1.0M168.3 250.1h1.0M159.1 247.4h1.0M171.8 246.1h1.0M173.6 247.0h1.0M171.4 246.1h1.0M159.7 246.4h1.0M168.7 250.2h1.0M171.2 252.4h1.0M168.6 253.3h1.0M171.6 247.3h1.0M172.8 251.6h1.0M178.0 253.0h1.0M171.3 252.7h1.0M184.9 250.2h1.0M171.2 249.1h1.0M171.6 250.7h1.0M174.4 253.3h1.0M169.6 248.1h1.0M168.2 257.6h1.0M177.0 250.9h1.0M158.0 246.8h1.0M160.0 249.4h1.0M181.8 245.6h1.0M174.2 249.5h1.0M173.1 248.0h1.0M171.8 249.8h1.0M171.7 251.4h1.0M164.7 248.9h1.0M168.5 246.8h1.0M164.3 256.9h1.0M176.6 252.6h1.0M173.7 257.1h1.0M171.4 253.2h1.0M172.3 254.4h1.0M169.3 251.8h1.0M163.6 251.3h1.0M179.7 246.6h1.0M173.8 245.9h1.0M169.1 252.9h1.0M173.4 251.8h1.0M177.3 247.8h1.0M176.8 252.2h1.0M173.9 251.5h1.0M174.8 256.4h1.0M168.8 247.8h1.0M177.8 249.1h1.0M175.5 253.3h1.0M175.5 254.5h1.0M162.8 254.0h1.0M173.8 248.6h1.0M173.9 251.7h1.0M174.7 254.2h1.0M155.4 251.8h1.0M159.5 247.6h1.0M171.7 245.9h1.0M164.7 245.8h1.0M172.3 249.7h1.0M169.5 249.3h1.0M174.9 249.0h1.0M166.9 247.9h1.0M164.0 248.3h1.0M173.0 253.3h1.0M168.4 252.6h1.0M163.3 251.6h1.0M158.8 248.0h1.0M187.8 251.3h1.0M167.9 252.8h1.0M168.6 246.7h1.0M158.8 245.5h1.0M164.2 253.3h1.0M169.0 250.6h1.0M171.8 246.1h1.0M174.4 251.3h1.0M165.7 247.1h1.0M172.7 254.8h1.0M176.5 250.6h1.0M167.0 247.9h1.0M169.5 244.9h1.0M159.7 247.2h1.0M165.3 255.7h1.0M162.1 255.5h1.0M173.7 252.9h1.0M168.9 247.3h1.0M179.0 247.3h1.0M171.0 246.4h1.0M174.5 247.6h1.0M172.8 251.9h1.0M171.1 251.3h1.0M163.8 253.3h1.0M179.3 247.0h1.0M169.4 254.4h1.0M159.4 250.2h1.0M166.6 249.4h1.0M163.6 246.1h1.0M176.6 252.5h1.0M175.9 248.6h1.0M178.7 253.2h1.0M182.4 246.2h1.0M166.2 251.4h1.0M159.1 251.5h1.0M164.5 253.5h1.0M172.3 252.1h1.0M166.5 252.3h1.0M174.7 246.0h1.0M165.0 253.6h1.0M169.2 249.3h1.0M164.7 247.4h1.0M179.9 253.6h1.0M181.1 257.0h1.0M164.1 248.7h1.0M165.1 255.8h1.0M170.7 252.7h1.0M174.0 250.3h1.0M172.5 249.1h1.0M173.8 250.9h1.0M175.8 252.3h1.0M177.1 246.5h1.0M181.0 249.0h1.0M171.4 243.6h1.0M167.7 253.2h1.0M170.0 250.4h1.0M183.3 249.8h1.0M175.3 248.1h1.0M174.6 249.2h1.0M178.3 249.8h1.0M177.7 243.2h1.0M184.2 250.2h1.0M166.0 248.7h1.0M171.8 249.4h1.0M174.9 252.0h1.0M175.3 247.4h1.0M168.4 256.4h1.0M161.2 246.5h1.0M169.0 255.4h1.0M166.6 251.2h1.0M169.9 249.7h1.0M176.9 251.5h1.0M174.5 251.7h1.0M163.9 246.2h1.0M166.2 242.1h1.0M171.6 246.5h1.0M177.0 249.3h1.0M170.1 252.2h1.0M171.7 252.6h1.0M161.7 246.2h1.0M167.6 247.1h1.0M165.8 245.8h1.0M171.5 246.6h1.0M168.7 245.6h1.0M165.2 252.2h1.0M164.0 252.9h1.0M171.4 253.4h1.0M166.4 250.3h1.0M176.7 250.5h1.0" stroke="#ff0000" stroke-width="1.0" stroke-opacity="0.6" fill="none"/>
<path d="M170.3 249.9h1.0M159.3 252.3h1.0M170.8 250.2h1.0M176.2 255.0h1.0M170.1 244.4h1.0M169.2 244.3h1.0M166.4 248.8h1.0M177.1 248.5h1.0M168.0 247.1h1.0M174.7 240.4h1.0M166.1 254.6h1.0M172.1 250.1h1.0M177.6 253.6h1.0M167.1 256.9h1.0M172.0 248.1h1.0M170.8 243.7h1.0M174.5 255.8h1.0M168.4 244.6h1.0M173.4 246.2h1.0M167.4 242.6h1.0M176.3 253.5h1.0M175.0 240.9h1.0M161.3 252.3h1.0M162.7 247.3h1.0M172.7 258.5h1.0M172.4 244.6h1.0M173.3 249.8h1.0M169.9 253.2h1.0M170.3 255.7h1.0M178.1 248.7h1.0M161.6 243.0h1.0M157.8 247.5h1.0M177.8 251.7h1.0M163.0 254.5h1.0M175.1 255.7h1.0M163.7 252.1h1.0M160.1 259.3h1.0M182.3 251.7h1.0M168.8 244.0h1.0M157.6 250.8h1.0M167.5 251.0h1.0M167.9 253.5h1.0M167.6 246.2h1.0M170.7 246.6h1.0M159.7 242.6h1.0M166.9 254.1h1.0M173.0 256.2h1.0M174.4 253.3h1.0M170.0 256.9h1.0M162.6 250.7h1.0M181.5 254.5h1.0M159.9 250.8h1.0M165.5 244.7h1.0M169.4 246.2h1.0M173.0 253.5h1.0M169.1 250.0h1.0M162.5 248.7h1.0M168.9 246.5h1.0M186.5 251.5h1.0M190.1 256.6h1.0M167.5 248.3h1.0M174.7 255.4h1.0M171.1 251.6h1.0M175.2 244.9h1.0M166.8 252.9h1.0M184.5 248.8h1.0M176.6 251.1h1.0M174.4 253.1h1.0M164.2 252.9h1.0M175.3 247.4h1.0M165.3 248.8h1.0M164.5 259.5h1.0M175.0 248.4h1.0M176.6 248.5h1.0M171.0 253.1h1.0M182.8 252.7h1.0M159.4 254.0h1.0M185.4 249.9h1.0M178.2 250.1h1.0M171.4 255.1h1.0M166.6 242.4h1.0M165.9 252.6h1.0M168.2 238.2h1.0M161.7 236.9h1.0M180.9 242.9h1.0M178.0 243.3h1.0M167.1 253.5h1.0M177.0 251.7h1.0M169.1 258.9h1.0M171.7 252.4h1.0M165.4 244.9h1.0M190.1 251.7h1.0M157.0 259.9h1.0M168.3 241.3h1.0M178.1 239.0h1.0M178.0 241.5h1.0M155.9 259.1h1.0M161.6 245.8h1.0M168.7 254.8h1.0M162.8 251.1h1.0M163.9 246.4h1.0M167.4 241.7h1.0M168.2 253.6h1.0M178.7 251.7h1.0M155.3 257.6h1.0M178.3 249.8h1.0M167.6 255.6h1.0M174.3 252.7h1.0M166.6 246.0h1.0M189.1 249.5h1.0M179.4 248.2h1.0M165.8 245.8h1.0M167.6 242.5h1.0M181.4 256.2h1.0M167.8 259.1h1.0M177.1 247.0h1.0M181.7 245.9h1.0M164.6 242.6h1.0M186.4 245.2h1.0M180.1 240.1h1.0M167.7 247.3h1.0M171.4 253.6h1.0M163.6 244.7h1.0M172.0 255.0h1.0M176.9 253.7h1.0M178.0 247.6h1.0M171.5 251.5h1.0M165.3 245.1h1.0M164.2 252.4h1.0M161.6 240.2h1.0M167.3 255.9h1.0M174.6 246.0h1.0M164.8 252.8h1.0M163.9 242.4h1.0M160.8 253.6h1.0M174.4 245.7h1.0M156.1 254.6h1.0M178.8 240.6h1.0M178.4 248.7h1.0" stroke="#ff3030" stroke-width="1.0" stroke-opacity="0.45" fill="none"/>
<path d="M169.6 254.5h1.0M175.2 253.1h1.0M185.8 249.5h1.0M161.4 251.5h1.0M168.5 242.3h1.0M165.9 252.2h1.0M174.0 251.4h1.0M164.2 257.1h1.0M158.2 243.2h1.0M158.5 250.5h1.0M173.7 250.8h1.0M170.5 253.2h1.0M175.1 250.0h1.0M157.9 252.3h1.0M162.8 245.6h1.0M165.3 254.0h1.0M175.0 252.1h1.0M172.2 252.6h1.0M167.9 248.1h1.0M162.1 249.3h1.0M170.4 246.3h1.0M165.8 248.3h1.0M175.3 247.9h1.0M181.3 249.9h1.0M169.9 246.7h1.0M161.3 248.7h1.0M185.7 248.6h1.0M173.5 257.0h1.0M172.9 252.3h1.0M169.9 253.3h1.0M170.3 258.0h1.0M169.8 245.0h1.0M171.0 244.4h1.0M158.7 246.3h1.0M164.2 248.3h1.0M168.5 244.3h1.0M170.2 257.5h1.0M170.5 245.1h1.0M172.2 258.9h1.0M156.5 250.2h1.0" stroke="#404040" stroke-width="1.0" stroke-opacity="0.35" fill="none"/>
<path d="M196.7 214.9h1.0M200.6 225.5h1.0M202.0 213.0h1.0M202.6 240.9h1.0M188.5 234.6h1.0M188.7 229.5h1.0M187.1 240.9h1.0M196.7 219.7h1.0M192.0 220.8h1.0M179.5 225.6h1.0M205.0 210.8h1.0M184.0 251.1h1.0M190.5 250.3h1.0M188.0 233.3h1.0M187.9 223.6h1.0M201.2 205.3h1.0M188.5 230.3h1.0M181.0 246.4h1.0M188.8 237.3h1.0M185.1 236.7h1.0M180.0 240.7h1.0M204.5 206.1h1.0M206.9 207.5h1.0M181.0 222.0h1.0M211.1 202.1h1.0M213.7 195.8h1.0M181.5 230.1h1.0M199.6 208.9h1.0M192.6 232.1h1.0M203.7 227.4h1.0M201.6 211.7h1.0M191.7 221.8h1.0M200.1 213.7h1.0M204.2 204.6h1.0M171.7 239.7h1.0M194.9 230.3h1.0M195.3 199.2h1.0M201.4 190.9h1.0M206.7 201.7h1.0M202.9 215.0h1.0M187.7 229.7h1.0M202.5 226.8h1.0M187.8 231.6h1.0M203.1 220.7h1.0M193.6 225.6h1.0M193.6 227.7h1.0M196.7 202.0h1.0M179.5 250.0h1.0M192.2 223.7h1.0M183.4 240.9h1.0M204.7 196.7h1.0M208.1 197.3h1.0M180.9 254.3h1.0M172.9 259.0h1.0M197.8 217.1h1.0M189.7 235.3h1.0M186.1 229.9h1.0M218.2 193.9h1.0M191.2 237.6h1.0M185.1 237.9h1.0M192.6 221.6h1.0M198.2 219.7h1.0M211.1 202.1h1.0M198.4 215.4h1.0M182.9 239.0h1.0M190.5 216.2h1.0M213.8 211.7h1.0M178.0 239.5h1.0M194.9 227.9h1.0M207.2 204.5h1.0M198.1 211.5h1.0M193.3 219.3h1.0M186.6 227.2h1.0M197.0 213.6h1.0M200.6 211.2h1.0M197.6 221.9h1.0M205.7 203.2h1.0M197.5 211.1h1.0M208.4 198.7h1.0M196.9 218.2h1.0M204.6 208.8h1.0M192.2 244.7h1.0M212.9 208.7h1.0M208.0 208.9h1.0" stroke="#c83030" stroke-width="1.0" stroke-opacity="0.45" fill="none"/>
<path d="M205.8 209.2h1.0M207.7 202.1h1.0M197.2 231.7h1.0M184.5 218.5h1.0M200.6 223.2h1.0M205.6 200.5h1.0M203.4 206.7h1.0M188.7 237.6h1.0M184.9 236.6h1.0M186.7 233.2h1.0M184.9 238.8h1.0M205.7 203.2h1.0M198.8 218.0h1.0M217.3 211.9h1.0M212.2 201.4h1.0M205.8 220.6h1.0M188.8 232.9h1.0M202.3 212.2h1.0M200.2 217.9h1.0M181.6 230.2h1.0M183.0 238.7h1.0M188.3 236.3h1.0M208.3 191.8h1.0M191.7 220.5h1.0M181.8 240.7h1.0" stroke="#555" stroke-width="1.0" stroke-opacity="0.35" fill="none"/>
<path d="M208.0 197.2h1.0M206.6 199.6h1.0M208.2 204.0h1.0M204.7 196.4h1.0M213.8 196.3h1.0M212.1 204.7h1.0M200.4 211.2h1.0M204.7 203.7h1.0M207.8 203.4h1.0M205.8 199.0h1.0M200.8 202.3h1.0M210.2 198.9h1.0M203.9 203.4h1.0M210.2 196.9h1.0M209.4 202.0h1.0M213.0 203.9h1.0M204.9 209.2h1.0M214.0 197.1h1.0M203.8 203.8h1.0M212.9 204.6h1.0" stroke="#c83030" stroke-width="1.0" stroke-opacity="0.55" fill="none"/>
<line x1="152.50" y1="153.50" x2="263.30" y2="153.50" stroke="#8c8c8c" stroke-width="1.1"/>
<line x1="263.30" y1="153.50" x2="263.30" y2="264.40" stroke="#9a9a9a" stroke-width="1"/>
<line x1="152.50" y1="153.50" x2="152.50" y2="264.40" stroke="#8a8a8a" stroke-width="0.8"/>
<line x1="152.50" y1="264.40" x2="263.30" y2="264.40" stroke="#666" stroke-width="0.8"/>
<path d="M152.0 264.4h1.1M152.5 263.9v1.1M152.0 256.1h1.1M160.8 263.9v1.1M152.0 251.2h1.1M165.7 263.9v1.1M152.0 247.7h1.1M169.2 263.9v1.1M152.0 245.0h1.1M171.9 263.9v1.1M152.0 242.8h1.1M174.1 263.9v1.1M152.0 241.0h1.1M175.9 263.9v1.1M152.0 239.4h1.1M177.5 263.9v1.1M152.0 237.9h1.1M178.9 263.9v1.1M152.0 236.7h1.1M180.2 263.9v1.1M152.0 228.3h1.1M188.5 263.9v1.1M152.0 223.4h1.1M193.4 263.9v1.1M152.0 220.0h1.1M196.9 263.9v1.1M152.0 217.3h1.1M199.6 263.9v1.1M152.0 215.1h1.1M201.8 263.9v1.1M152.0 213.2h1.1M203.6 263.9v1.1M152.0 211.6h1.1M205.2 263.9v1.1M152.0 210.2h1.1M206.6 263.9v1.1M152.0 208.9h1.1M207.9 263.9v1.1M152.0 200.6h1.1M216.2 263.9v1.1M152.0 195.7h1.1M221.1 263.9v1.1M152.0 192.3h1.1M224.6 263.9v1.1M152.0 189.6h1.1M227.3 263.9v1.1M152.0 187.4h1.1M229.5 263.9v1.1M152.0 185.5h1.1M231.3 263.9v1.1M152.0 183.9h1.1M232.9 263.9v1.1M152.0 182.5h1.1M234.3 263.9v1.1M152.0 181.2h1.1M235.6 263.9v1.1M152.0 172.9h1.1M243.9 263.9v1.1M152.0 168.0h1.1M248.8 263.9v1.1M152.0 164.5h1.1M252.3 263.9v1.1M152.0 161.8h1.1M255.0 263.9v1.1M152.0 159.7h1.1M257.2 263.9v1.1M152.0 157.8h1.1M259.0 263.9v1.1M152.0 156.2h1.1M260.6 263.9v1.1M152.0 154.8h1.1M262.0 263.9v1.1" stroke="#555" stroke-width="0.7" fill="none"/>
<text x="149.7" y="265.9" font-size="4.0" text-anchor="middle" fill="#7a7060">0</text>
<text x="152.5" y="269.4" font-size="4.0" text-anchor="middle" fill="#7a7060">0</text>
<text x="149.7" y="238.17499999999998" font-size="4.0" text-anchor="middle" fill="#7a7060">1</text>
<text x="180.2" y="269.4" font-size="4.0" text-anchor="middle" fill="#7a7060">1</text>
<text x="149.7" y="210.45" font-size="4.0" text-anchor="middle" fill="#7a7060">2</text>
<text x="207.9" y="269.4" font-size="4.0" text-anchor="middle" fill="#7a7060">2</text>
<text x="149.7" y="182.725" font-size="4.0" text-anchor="middle" fill="#7a7060">3</text>
<text x="235.60000000000002" y="269.4" font-size="4.0" text-anchor="middle" fill="#7a7060">3</text>
<text x="149.7" y="155.0" font-size="4.0" text-anchor="middle" fill="#7a7060">4</text>
<text x="263.3" y="269.4" font-size="4.0" text-anchor="middle" fill="#7a7060">4</text>
<rect x="184.1" y="155.1" width="77.4" height="108.9" fill="none" stroke="#111" stroke-width="1" stroke-dasharray="1 0.8"/>
<line x1="182.14" y1="153.50" x2="182.14" y2="264.40" stroke="#ff3a3a" stroke-width="1.1"/>
<line x1="152.50" y1="241.67" x2="263.30" y2="241.67" stroke="#ff4848" stroke-width="1.1"/>
<circle cx="182.1" cy="183.2" r="2.1" fill="#ff0000"/>
<circle cx="236.2" cy="241.7" r="2.1" fill="#ff0000"/>
<circle cx="182.1" cy="241.7" r="1.5" fill="#fff" stroke="#ff5a5a" stroke-width="0.7"/>
<text x="197.6" y="165.5" font-size="10" font-weight="bold" fill="#000">450 µg/mL</text>
<text x="258.4" y="230.2" font-size="8.3" font-weight="bold" textLength="45.9" lengthAdjust="spacing" transform="rotate(-90 258.4 230.2)" fill="#000" stroke="#000" stroke-width="0.35">25.91 ± 2.11</text>
<path d="M35.8 383.7h1.0M38.6 373.4h1.0M44.7 373.1h1.0M28.7 380.0h1.0M38.5 372.9h1.0M45.0 380.3h1.0M43.5 378.5h1.0M45.5 379.1h1.0M52.1 376.7h1.0M36.0 378.3h1.0M37.4 372.9h1.0M47.0 378.7h1.0M50.1 375.9h1.0M42.9 377.5h1.0M39.1 376.9h1.0M34.4 380.6h1.0M44.5 377.7h1.0M43.0 372.9h1.0M34.9 375.1h1.0M38.0 381.7h1.0M35.4 379.2h1.0M44.3 381.0h1.0M40.2 380.1h1.0M48.1 379.6h1.0M48.7 381.6h1.0M42.9 376.0h1.0M47.8 374.4h1.0M47.0 377.0h1.0M49.6 379.0h1.0M38.4 377.2h1.0M44.7 380.1h1.0M51.6 373.8h1.0M44.9 369.7h1.0M38.8 386.7h1.0M42.6 376.3h1.0M54.2 377.1h1.0M39.0 377.1h1.0M37.7 378.7h1.0M46.4 382.6h1.0M39.1 378.0h1.0M32.3 379.3h1.0M32.3 378.4h1.0M41.3 377.8h1.0M37.7 379.4h1.0M49.6 369.7h1.0M37.9 382.0h1.0M33.4 379.2h1.0M36.9 382.1h1.0M34.2 378.4h1.0M47.9 372.3h1.0M36.8 377.9h1.0M49.8 380.2h1.0M44.5 382.0h1.0M52.9 375.5h1.0M40.7 380.1h1.0M46.1 375.4h1.0M29.4 380.4h1.0M38.6 379.5h1.0M37.0 378.0h1.0M47.9 383.0h1.0M40.6 373.7h1.0M45.1 381.4h1.0M37.2 377.3h1.0M34.0 376.4h1.0M40.8 369.8h1.0M48.8 375.9h1.0M41.0 374.9h1.0M50.3 379.1h1.0M39.5 378.2h1.0M39.3 377.8h1.0M39.3 374.2h1.0M39.9 381.1h1.0M37.4 376.4h1.0M40.0 368.1h1.0M36.7 381.0h1.0M35.4 384.0h1.0M50.0 379.2h1.0M46.3 378.0h1.0M39.6 372.1h1.0M37.9 376.1h1.0M32.4 374.1h1.0M44.7 380.0h1.0M37.5 377.9h1.0M52.3 376.3h1.0M31.4 380.8h1.0M43.3 376.6h1.0M48.3 378.4h1.0M38.3 377.0h1.0M53.0 382.0h1.0M47.1 384.3h1.0M47.0 372.9h1.0M36.5 377.6h1.0M47.3 377.8h1.0M47.1 368.8h1.0M42.2 374.2h1.0M51.7 375.8h1.0M43.3 379.7h1.0M28.5 376.7h1.0M43.4 376.7h1.0M51.4 378.1h1.0M38.0 372.9h1.0M45.7 374.9h1.0M37.8 375.7h1.0M41.4 380.3h1.0M25.9 380.3h1.0M31.1 374.1h1.0M39.7 376.8h1.0M38.1 379.5h1.0M30.7 376.7h1.0M45.4 377.3h1.0M43.4 378.9h1.0M36.3 378.2h1.0M29.5 375.3h1.0M44.6 376.3h1.0M38.5 380.4h1.0M45.5 379.8h1.0M47.8 376.3h1.0M39.3 381.1h1.0M39.9 377.1h1.0M45.6 377.8h1.0M39.7 381.9h1.0M29.8 385.9h1.0M44.6 380.2h1.0M42.9 377.5h1.0M37.8 377.7h1.0M44.0 373.3h1.0M38.8 377.6h1.0M38.6 377.9h1.0M45.5 376.2h1.0M33.0 379.3h1.0M31.6 372.1h1.0M40.0 379.5h1.0M33.3 380.7h1.0M45.8 379.1h1.0M36.6 373.7h1.0M30.9 379.8h1.0M38.5 380.2h1.0M28.0 376.0h1.0M48.7 373.4h1.0M40.7 379.0h1.0M44.7 375.2h1.0M43.8 379.7h1.0M42.0 372.9h1.0M34.8 381.4h1.0M45.3 378.4h1.0M38.9 379.1h1.0M36.4 380.9h1.0M29.1 378.3h1.0M48.2 375.2h1.0M39.5 380.5h1.0M38.5 371.4h1.0M29.9 377.2h1.0M46.2 376.4h1.0M40.2 380.3h1.0M46.6 377.7h1.0M40.6 374.7h1.0M36.0 381.2h1.0M44.1 379.9h1.0M31.8 380.7h1.0M31.9 382.4h1.0M40.4 375.6h1.0M45.1 380.3h1.0M47.2 372.0h1.0M40.3 381.9h1.0M40.1 378.9h1.0M42.0 377.5h1.0M39.6 381.1h1.0M37.9 385.0h1.0M43.7 379.8h1.0M37.9 377.9h1.0M39.6 380.9h1.0M47.7 376.6h1.0M42.1 383.9h1.0M37.9 376.8h1.0M44.8 370.6h1.0M40.0 374.5h1.0M44.7 374.3h1.0M35.9 379.1h1.0M36.4 379.3h1.0M32.7 374.2h1.0M47.2 378.7h1.0M48.8 375.3h1.0M47.6 380.8h1.0M42.8 376.4h1.0M41.9 377.1h1.0M39.5 385.2h1.0M44.1 378.0h1.0M39.7 375.9h1.0M35.0 376.1h1.0M46.5 376.3h1.0M45.9 373.3h1.0M43.8 377.9h1.0M40.4 380.3h1.0M38.6 374.8h1.0M41.3 370.6h1.0M42.0 378.8h1.0M34.1 372.9h1.0M38.2 378.4h1.0M34.8 382.9h1.0M47.1 380.5h1.0M33.1 380.9h1.0M33.9 374.0h1.0M35.7 377.5h1.0M41.6 379.6h1.0M35.5 377.5h1.0M50.7 372.7h1.0M44.9 377.9h1.0M27.2 380.6h1.0M42.0 376.5h1.0M42.7 380.5h1.0M33.5 376.3h1.0M40.2 374.4h1.0M41.2 377.1h1.0M37.1 379.3h1.0M40.1 377.4h1.0M42.6 382.4h1.0M37.8 372.6h1.0M40.3 369.8h1.0M33.9 377.9h1.0M44.2 384.6h1.0M37.1 380.1h1.0M47.5 382.4h1.0M52.3 383.7h1.0M50.1 377.9h1.0M38.0 378.4h1.0M43.1 379.8h1.0M39.2 374.1h1.0M43.3 377.5h1.0M36.0 381.2h1.0M34.9 376.5h1.0M40.4 382.0h1.0M36.1 379.1h1.0M47.6 380.3h1.0M44.7 376.6h1.0M42.5 378.6h1.0M39.8 379.7h1.0M39.7 376.9h1.0M46.1 376.0h1.0M41.1 376.9h1.0M40.7 374.0h1.0M51.2 380.9h1.0M41.5 376.4h1.0M39.2 372.2h1.0M39.4 377.7h1.0M47.9 385.0h1.0M37.9 374.6h1.0M38.0 378.5h1.0M46.9 375.4h1.0M47.3 376.6h1.0M48.6 375.4h1.0M35.8 373.8h1.0M43.2 377.2h1.0M37.5 375.2h1.0M43.0 382.0h1.0M31.8 381.0h1.0M39.6 378.2h1.0M46.8 372.2h1.0M41.9 380.5h1.0M27.1 379.3h1.0M46.3 375.3h1.0M42.8 379.5h1.0M39.2 382.2h1.0M40.7 384.4h1.0M38.9 375.2h1.0M47.2 381.4h1.0M40.5 376.6h1.0M31.7 376.3h1.0M35.9 381.2h1.0M49.9 376.0h1.0M47.1 384.8h1.0M45.2 378.0h1.0M36.3 381.4h1.0M43.8 376.9h1.0M46.6 376.9h1.0M41.3 377.1h1.0M44.9 375.5h1.0M47.2 379.7h1.0M46.6 382.4h1.0M43.4 381.9h1.0M43.4 374.3h1.0M33.8 381.5h1.0M39.1 379.0h1.0M45.5 376.4h1.0M50.4 378.0h1.0M41.8 381.1h1.0M46.9 384.7h1.0M40.9 374.6h1.0M35.3 379.9h1.0M43.3 383.2h1.0M43.4 379.9h1.0M35.8 377.8h1.0M35.9 384.5h1.0M41.1 377.3h1.0M37.9 377.8h1.0M43.7 376.2h1.0M33.2 378.0h1.0M45.4 381.0h1.0M37.4 383.4h1.0M42.8 378.4h1.0M32.0 379.8h1.0M46.1 372.5h1.0M42.0 378.7h1.0M52.8 376.1h1.0M31.5 377.9h1.0M30.5 384.0h1.0M44.9 375.1h1.0M45.9 379.2h1.0M30.8 383.0h1.0M43.8 376.3h1.0M46.1 373.5h1.0M48.8 378.0h1.0M41.6 378.7h1.0M32.1 380.2h1.0M29.9 379.6h1.0M52.7 373.7h1.0M43.2 377.5h1.0M46.4 376.2h1.0M39.0 375.9h1.0M39.5 387.7h1.0M39.7 377.3h1.0M35.6 376.1h1.0M39.2 377.1h1.0M34.6 383.0h1.0M38.5 380.5h1.0M47.1 375.4h1.0M41.0 376.4h1.0M37.0 376.4h1.0M50.6 381.4h1.0M48.2 376.7h1.0M41.1 373.0h1.0" stroke="#ff0000" stroke-width="1.0" stroke-opacity="0.55" fill="none"/>
<path d="M40.9 385.2h1.0M51.9 385.1h1.0M47.8 368.6h1.0M47.5 375.3h1.0M34.8 373.4h1.0M35.0 370.7h1.0M34.8 385.1h1.0M50.2 369.8h1.0M51.0 376.9h1.0M31.8 375.1h1.0M29.7 373.6h1.0M41.6 374.2h1.0M51.5 379.5h1.0M42.8 377.8h1.0M45.9 376.7h1.0M44.6 371.7h1.0M39.4 369.9h1.0M44.6 382.8h1.0M46.3 365.4h1.0M39.6 375.1h1.0M54.6 367.5h1.0M31.6 379.3h1.0M37.3 368.2h1.0M33.4 375.6h1.0M49.5 375.1h1.0M49.6 374.9h1.0M41.1 386.0h1.0M36.7 386.9h1.0M29.0 377.6h1.0M33.7 379.2h1.0M43.3 373.0h1.0M45.2 375.6h1.0M34.4 371.0h1.0M40.5 381.7h1.0M47.4 375.5h1.0M52.1 380.1h1.0M43.4 384.2h1.0M33.7 387.9h1.0M27.3 378.7h1.0M41.1 382.9h1.0M37.9 380.9h1.0M35.6 383.3h1.0M34.7 384.1h1.0M35.8 362.2h1.0M41.8 377.5h1.0M46.2 385.0h1.0M33.7 379.1h1.0M56.1 377.2h1.0M52.4 385.7h1.0M38.5 372.0h1.0M43.1 383.0h1.0M53.3 374.5h1.0M32.9 380.7h1.0M35.4 382.6h1.0M35.5 359.9h1.0M32.1 381.7h1.0M46.6 386.3h1.0M38.8 380.9h1.0M41.4 383.5h1.0M41.3 371.8h1.0M38.9 375.6h1.0M53.3 384.2h1.0M39.2 368.1h1.0M33.5 379.5h1.0M29.1 385.8h1.0M34.9 372.1h1.0M42.2 374.3h1.0M42.1 383.7h1.0M43.0 384.3h1.0M37.1 379.0h1.0M44.3 381.7h1.0M44.4 374.8h1.0M30.6 376.8h1.0M44.0 384.6h1.0M44.1 384.0h1.0M38.4 379.5h1.0M49.8 370.4h1.0M41.1 381.6h1.0M34.4 374.9h1.0M48.5 381.4h1.0M55.5 375.1h1.0M31.0 381.6h1.0M40.1 375.7h1.0M48.1 382.8h1.0M45.8 382.1h1.0M49.2 366.9h1.0M51.6 372.5h1.0M25.8 385.6h1.0M46.5 371.3h1.0M27.1 379.5h1.0M32.8 370.7h1.0M31.6 386.0h1.0M44.7 378.5h1.0M26.8 381.0h1.0M41.5 382.1h1.0M28.0 385.1h1.0M57.3 366.6h1.0M36.2 378.3h1.0M40.5 379.9h1.0M30.8 387.8h1.0M35.8 371.9h1.0M51.6 371.4h1.0M42.7 379.0h1.0M30.9 386.2h1.0M36.4 375.0h1.0M39.3 378.1h1.0M55.3 385.8h1.0M39.7 366.3h1.0M44.3 373.8h1.0M49.5 383.4h1.0M60.6 382.0h1.0M46.1 373.4h1.0M31.7 371.6h1.0M32.4 374.9h1.0M54.9 374.5h1.0M44.1 379.9h1.0M36.4 379.6h1.0M36.8 376.7h1.0M37.8 375.8h1.0M46.1 379.2h1.0M46.3 373.2h1.0M51.9 368.6h1.0M43.1 378.9h1.0M38.9 370.7h1.0M31.7 370.1h1.0M47.7 380.2h1.0" stroke="#ff3030" stroke-width="1.0" stroke-opacity="0.45" fill="none"/>
<path d="M45.0 377.9h1.0M41.6 377.1h1.0M41.2 381.8h1.0M35.7 377.1h1.0M47.4 373.6h1.0M48.8 380.5h1.0M51.6 372.0h1.0M42.1 380.1h1.0M41.2 373.4h1.0M48.3 370.6h1.0M64.0 376.3h1.0M38.7 379.7h1.0M39.7 376.1h1.0M52.9 379.3h1.0M32.3 382.0h1.0M47.4 385.9h1.0M50.3 373.8h1.0M49.8 381.0h1.0M47.6 373.8h1.0M48.2 379.9h1.0M35.5 370.4h1.0M47.9 379.9h1.0M33.3 387.7h1.0M29.3 365.9h1.0M38.8 377.9h1.0M31.2 378.8h1.0M32.5 378.2h1.0M35.8 379.5h1.0M37.4 376.8h1.0M41.4 381.2h1.0M33.1 368.9h1.0M36.1 381.1h1.0M39.2 375.3h1.0M41.4 372.3h1.0M43.7 378.8h1.0M45.8 374.1h1.0M41.9 380.2h1.0M43.5 382.1h1.0M45.1 381.2h1.0" stroke="#404040" stroke-width="1.0" stroke-opacity="0.35" fill="none"/>
<path d="M77.0 328.4h1.0M76.8 330.1h1.0M61.1 373.1h1.0M76.5 335.6h1.0M61.1 359.2h1.0M69.8 352.4h1.0M73.9 339.5h1.0M51.9 382.9h1.0M73.3 334.7h1.0M65.9 357.9h1.0M56.5 381.6h1.0M73.7 339.2h1.0M70.6 344.9h1.0M71.1 336.8h1.0M66.1 355.9h1.0M62.9 359.9h1.0M57.7 371.9h1.0M66.4 354.5h1.0M59.8 351.5h1.0M64.6 370.9h1.0M71.4 337.8h1.0M74.5 340.3h1.0M71.6 340.7h1.0M70.4 353.1h1.0M66.0 351.0h1.0M75.7 338.0h1.0M77.5 325.8h1.0M64.2 347.2h1.0M64.7 362.7h1.0M60.3 373.5h1.0M65.8 345.4h1.0M64.7 342.6h1.0M83.8 317.0h1.0M79.0 339.5h1.0M57.3 379.2h1.0M74.3 329.7h1.0M66.2 340.7h1.0M54.3 376.3h1.0M70.2 352.4h1.0M62.7 351.5h1.0M70.6 351.6h1.0M72.3 344.0h1.0M62.9 362.2h1.0M80.1 328.4h1.0M69.2 342.4h1.0M61.9 366.5h1.0M55.1 372.9h1.0M85.9 306.0h1.0M61.7 353.8h1.0M68.6 338.5h1.0M70.4 345.8h1.0M75.2 344.7h1.0M57.3 368.2h1.0M48.6 385.1h1.0M68.9 344.6h1.0M56.1 374.1h1.0M65.8 349.7h1.0M84.5 322.0h1.0M63.3 352.4h1.0M73.4 326.4h1.0M59.1 364.9h1.0M91.9 300.6h1.0M65.0 350.1h1.0M71.2 338.4h1.0M66.9 346.8h1.0M63.1 356.5h1.0M76.5 333.0h1.0M66.1 342.0h1.0M60.6 370.3h1.0M63.6 349.7h1.0M65.5 358.5h1.0M68.6 343.9h1.0M69.0 352.2h1.0M61.3 371.1h1.0M63.7 363.1h1.0M84.3 321.9h1.0M65.7 344.4h1.0M78.6 331.0h1.0M64.2 360.2h1.0M70.5 349.4h1.0M62.6 359.0h1.0M51.8 380.5h1.0M63.2 354.3h1.0M74.6 339.6h1.0M77.7 336.6h1.0M76.1 332.6h1.0M63.1 352.6h1.0M64.9 349.8h1.0M58.3 373.7h1.0M69.6 348.2h1.0M73.9 334.4h1.0M69.2 349.5h1.0M61.4 370.1h1.0M70.6 341.9h1.0M68.2 350.2h1.0M71.2 340.0h1.0M65.9 347.0h1.0M69.0 349.3h1.0M61.6 368.0h1.0M60.7 367.4h1.0M47.2 384.7h1.0M69.2 345.3h1.0M68.8 341.9h1.0M59.8 366.7h1.0M79.8 320.2h1.0M77.3 332.8h1.0M81.3 325.9h1.0M66.7 350.9h1.0M65.6 353.8h1.0M70.3 345.2h1.0M75.1 333.8h1.0M79.8 318.9h1.0M60.0 368.2h1.0M66.4 362.3h1.0M51.5 378.3h1.0M65.6 341.1h1.0M75.1 327.6h1.0M73.3 345.2h1.0M86.7 308.3h1.0M73.3 330.8h1.0M64.4 349.7h1.0M61.8 349.2h1.0M70.0 339.0h1.0M81.1 339.6h1.0M57.8 364.9h1.0M60.2 368.5h1.0M68.5 353.0h1.0M65.1 364.6h1.0M75.0 342.3h1.0M64.1 358.2h1.0M68.2 340.9h1.0M67.8 341.5h1.0M69.6 340.9h1.0M78.8 319.0h1.0M57.5 371.5h1.0M54.0 381.3h1.0M55.9 360.2h1.0M65.5 350.2h1.0M68.8 348.8h1.0M72.2 335.3h1.0" stroke="#c83030" stroke-width="1.0" stroke-opacity="0.45" fill="none"/>
<path d="M62.0 361.3h1.0M80.5 322.6h1.0M57.5 373.2h1.0M63.6 360.7h1.0M66.4 350.6h1.0M66.3 347.4h1.0M57.9 363.2h1.0M74.8 338.6h1.0M72.9 345.7h1.0M68.4 344.3h1.0M72.6 330.7h1.0M64.3 358.2h1.0M75.7 335.1h1.0M63.4 359.6h1.0M59.4 362.6h1.0M66.6 344.6h1.0M66.4 356.7h1.0M70.8 339.4h1.0M73.4 328.1h1.0M81.6 317.1h1.0M57.4 373.5h1.0M55.3 381.8h1.0M70.3 342.8h1.0M78.5 318.4h1.0M76.4 326.1h1.0M67.3 340.1h1.0M66.3 353.3h1.0M65.9 351.4h1.0M82.4 324.1h1.0M66.6 347.0h1.0M70.8 343.2h1.0M58.5 371.3h1.0M75.6 334.8h1.0M67.3 345.5h1.0M66.2 345.6h1.0M66.0 346.7h1.0M67.3 334.5h1.0M89.9 299.4h1.0M73.2 342.8h1.0M73.7 329.6h1.0M62.3 363.9h1.0M57.2 375.7h1.0M51.3 376.1h1.0M63.7 359.5h1.0M69.8 343.9h1.0M70.2 346.1h1.0M56.8 370.7h1.0M73.6 347.0h1.0M64.0 349.8h1.0M77.4 321.2h1.0" stroke="#555" stroke-width="1.0" stroke-opacity="0.35" fill="none"/>
<path d="M60.4 379.3h1.0M68.7 379.0h1.0M66.6 377.6h1.0M68.5 364.7h1.0M70.1 367.6h1.0M54.9 370.2h1.0M66.4 373.3h1.0M61.0 375.9h1.0M66.1 370.0h1.0M60.3 377.3h1.0M73.4 366.4h1.0M71.2 371.9h1.0M61.8 371.2h1.0M64.3 378.1h1.0M63.1 365.9h1.0M63.3 373.6h1.0M67.1 370.4h1.0M56.4 380.1h1.0M53.9 380.5h1.0M68.2 370.0h1.0M63.8 382.4h1.0M59.3 369.7h1.0M58.1 378.9h1.0M53.5 372.6h1.0M60.3 378.6h1.0M52.1 377.9h1.0M62.6 374.4h1.0M63.4 370.2h1.0M58.0 380.2h1.0M67.5 370.9h1.0M66.0 372.5h1.0M62.9 371.0h1.0M57.5 380.2h1.0M58.0 376.0h1.0M56.4 380.0h1.0M50.6 379.9h1.0M61.7 369.9h1.0M65.7 368.3h1.0M53.0 381.9h1.0M63.6 375.4h1.0M60.1 375.8h1.0M62.2 379.5h1.0M65.5 375.9h1.0M66.7 378.9h1.0M57.6 373.5h1.0M65.7 378.6h1.0M59.1 369.0h1.0M47.0 388.5h1.0M72.9 369.3h1.0M61.6 372.2h1.0M59.6 378.8h1.0M69.0 381.3h1.0M64.0 373.7h1.0M58.2 382.0h1.0M62.6 369.6h1.0M63.2 374.2h1.0M60.2 375.6h1.0M47.9 378.3h1.0M62.2 371.4h1.0M56.0 376.8h1.0M55.4 374.2h1.0M61.6 373.4h1.0M73.5 374.5h1.0M54.6 371.8h1.0M63.1 367.1h1.0M52.9 372.2h1.0M52.2 377.1h1.0M59.2 372.6h1.0M66.5 379.0h1.0M62.9 378.8h1.0M62.9 379.1h1.0M68.2 376.2h1.0M64.1 370.5h1.0M58.0 380.1h1.0M55.9 379.8h1.0M59.6 383.0h1.0M63.3 378.1h1.0M59.4 383.8h1.0M59.9 371.4h1.0M58.1 376.9h1.0" stroke="#c83030" stroke-width="1.0" stroke-opacity="0.45" fill="none"/>
<line x1="23.30" y1="280.20" x2="135.80" y2="280.20" stroke="#8c8c8c" stroke-width="1.1"/>
<line x1="135.80" y1="280.20" x2="135.80" y2="392.00" stroke="#9a9a9a" stroke-width="1"/>
<line x1="23.30" y1="280.20" x2="23.30" y2="392.00" stroke="#8a8a8a" stroke-width="0.8"/>
<line x1="23.30" y1="392.00" x2="135.80" y2="392.00" stroke="#666" stroke-width="0.8"/>
<path d="M22.8 392.0h1.1M23.3 391.5v1.1M22.8 383.6h1.1M31.8 391.5v1.1M22.8 378.7h1.1M36.7 391.5v1.1M22.8 375.2h1.1M40.2 391.5v1.1M22.8 372.5h1.1M43.0 391.5v1.1M22.8 370.3h1.1M45.2 391.5v1.1M22.8 368.4h1.1M47.1 391.5v1.1M22.8 366.8h1.1M48.7 391.5v1.1M22.8 365.3h1.1M50.1 391.5v1.1M22.8 364.1h1.1M51.4 391.5v1.1M22.8 355.6h1.1M59.9 391.5v1.1M22.8 350.7h1.1M64.8 391.5v1.1M22.8 347.2h1.1M68.4 391.5v1.1M22.8 344.5h1.1M71.1 391.5v1.1M22.8 342.3h1.1M73.3 391.5v1.1M22.8 340.4h1.1M75.2 391.5v1.1M22.8 338.8h1.1M76.8 391.5v1.1M22.8 337.4h1.1M78.3 391.5v1.1M22.8 336.1h1.1M79.6 391.5v1.1M22.8 327.7h1.1M88.0 391.5v1.1M22.8 322.8h1.1M93.0 391.5v1.1M22.8 319.3h1.1M96.5 391.5v1.1M22.8 316.6h1.1M99.2 391.5v1.1M22.8 314.4h1.1M101.4 391.5v1.1M22.8 312.5h1.1M103.3 391.5v1.1M22.8 310.9h1.1M104.9 391.5v1.1M22.8 309.4h1.1M106.4 391.5v1.1M22.8 308.1h1.1M107.7 391.5v1.1M22.8 299.7h1.1M116.1 391.5v1.1M22.8 294.8h1.1M121.1 391.5v1.1M22.8 291.3h1.1M124.6 391.5v1.1M22.8 288.6h1.1M127.3 391.5v1.1M22.8 286.4h1.1M129.6 391.5v1.1M22.8 284.5h1.1M131.4 391.5v1.1M22.8 282.9h1.1M133.1 391.5v1.1M22.8 281.5h1.1M134.5 391.5v1.1" stroke="#555" stroke-width="0.7" fill="none"/>
<text x="20.5" y="393.5" font-size="4.0" text-anchor="middle" fill="#7a7060">0</text>
<text x="23.3" y="397.0" font-size="4.0" text-anchor="middle" fill="#7a7060">0</text>
<text x="20.5" y="365.55" font-size="4.0" text-anchor="middle" fill="#7a7060">1</text>
<text x="51.425000000000004" y="397.0" font-size="4.0" text-anchor="middle" fill="#7a7060">1</text>
<text x="20.5" y="337.6" font-size="4.0" text-anchor="middle" fill="#7a7060">2</text>
<text x="79.55000000000001" y="397.0" font-size="4.0" text-anchor="middle" fill="#7a7060">2</text>
<text x="20.5" y="309.65" font-size="4.0" text-anchor="middle" fill="#7a7060">3</text>
<text x="107.67500000000001" y="397.0" font-size="4.0" text-anchor="middle" fill="#7a7060">3</text>
<text x="20.5" y="281.7" font-size="4.0" text-anchor="middle" fill="#7a7060">4</text>
<text x="135.8" y="397.0" font-size="4.0" text-anchor="middle" fill="#7a7060">4</text>
<rect x="56.6" y="281.8" width="77.4" height="109.8" fill="none" stroke="#111" stroke-width="1" stroke-dasharray="1 0.8"/>
<line x1="52.83" y1="280.20" x2="52.83" y2="392.00" stroke="#ff3a3a" stroke-width="1.1"/>
<line x1="23.30" y1="369.08" x2="135.80" y2="369.08" stroke="#ff4848" stroke-width="1.1"/>
<circle cx="52.8" cy="310.1" r="2.1" fill="#ff0000"/>
<circle cx="108.2" cy="369.1" r="2.1" fill="#ff0000"/>
<circle cx="52.8" cy="369.1" r="1.5" fill="#fff" stroke="#ff5a5a" stroke-width="0.7"/>
<text x="67.1" y="292.6" font-size="10" font-weight="bold" fill="#000">600 µg/mL</text>
<text x="130.3" y="358.2" font-size="8.3" font-weight="bold" textLength="45.3" lengthAdjust="spacing" transform="rotate(-90 130.3 358.2)" fill="#000" stroke="#000" stroke-width="0.35">34.06 ± 0.89</text>
<line x1="6.60" y1="33.00" x2="6.60" y2="165.20" stroke="#111" stroke-width="1.1"/>
<path d="M6.6 28.0 L4.2 34.0 L9.0 34.0 Z" fill="#111"/>
<line x1="6.60" y1="206.20" x2="6.60" y2="407.60" stroke="#111" stroke-width="1.1"/>
<line x1="6.05" y1="407.50" x2="109.80" y2="407.50" stroke="#111" stroke-width="1.1"/>
<text x="10.0" y="202.6" font-size="11" font-weight="bold" transform="rotate(-90 10.0 202.6)" fill="#000">7-AAD</text>
<text x="116.0" y="410.8" font-size="11.5" font-weight="bold" textLength="56.8" lengthAdjust="spacing" fill="#000">Annexin V</text>
<line x1="181.00" y1="406.90" x2="261.00" y2="406.90" stroke="#111" stroke-width="1.1"/>
<path d="M266.2 406.9 L260.0 404.5 L260.0 409.3 Z" fill="#111"/>
<text x="359.3" y="40.5" font-size="11.7" font-weight="bold" textLength="65.2" lengthAdjust="spacing" fill="#000">HT-29 (48 h)</text>
<text x="291.2" y="169.8" font-size="10" font-weight="bold" transform="rotate(-90 291.2 169.8)" fill="#000">Total Apoptotic Cells (%)</text>
<text x="301.0" y="153.9" font-size="10" font-weight="bold" transform="rotate(-90 301.0 153.9)" fill="#000">Annexin V Staining</text>
<line x1="325.20" y1="54.00" x2="325.20" y2="163.60" stroke="#555" stroke-width="1"/>
<line x1="322.80" y1="164.20" x2="501.40" y2="164.20" stroke="#555" stroke-width="1"/>
<line x1="322.60" y1="163.60" x2="325.20" y2="163.60" stroke="#555" stroke-width="1"/>
<text x="317.2" y="166.5" font-size="8.2" text-anchor="end" fill="#000">0</text>
<line x1="322.60" y1="149.92" x2="325.20" y2="149.92" stroke="#555" stroke-width="1"/>
<text x="317.2" y="152.825" font-size="8.2" text-anchor="end" fill="#000">5</text>
<line x1="322.60" y1="136.25" x2="325.20" y2="136.25" stroke="#555" stroke-width="1"/>
<text x="317.2" y="139.15" font-size="8.2" text-anchor="end" fill="#000">10</text>
<line x1="322.60" y1="122.57" x2="325.20" y2="122.57" stroke="#555" stroke-width="1"/>
<text x="317.2" y="125.475" font-size="8.2" text-anchor="end" fill="#000">15</text>
<line x1="322.60" y1="108.90" x2="325.20" y2="108.90" stroke="#555" stroke-width="1"/>
<text x="317.2" y="111.80000000000001" font-size="8.2" text-anchor="end" fill="#000">20</text>
<line x1="322.60" y1="95.22" x2="325.20" y2="95.22" stroke="#555" stroke-width="1"/>
<text x="317.2" y="98.125" font-size="8.2" text-anchor="end" fill="#000">25</text>
<line x1="322.60" y1="81.55" x2="325.20" y2="81.55" stroke="#555" stroke-width="1"/>
<text x="317.2" y="84.45" font-size="8.2" text-anchor="end" fill="#000">30</text>
<line x1="322.60" y1="67.88" x2="325.20" y2="67.88" stroke="#555" stroke-width="1"/>
<text x="317.2" y="70.775" font-size="8.2" text-anchor="end" fill="#000">35</text>
<line x1="322.60" y1="54.20" x2="325.20" y2="54.20" stroke="#555" stroke-width="1"/>
<text x="317.2" y="57.1" font-size="8.2" text-anchor="end" fill="#000">40</text>
<line x1="360.42" y1="163.60" x2="360.42" y2="166.40" stroke="#555" stroke-width="1"/>
<line x1="395.64" y1="163.60" x2="395.64" y2="166.40" stroke="#555" stroke-width="1"/>
<line x1="430.86" y1="163.60" x2="430.86" y2="166.40" stroke="#555" stroke-width="1"/>
<line x1="466.08" y1="163.60" x2="466.08" y2="166.40" stroke="#555" stroke-width="1"/>
<line x1="501.30" y1="163.60" x2="501.30" y2="166.40" stroke="#555" stroke-width="1"/>
<rect x="337.21" y="143.80" width="11.20" height="19.80" fill="#000"/>
<line x1="342.81" y1="139.15" x2="342.81" y2="143.80" stroke="#7a7a7a" stroke-width="1"/>
<line x1="340.61" y1="139.15" x2="345.01" y2="139.15" stroke="#000" stroke-width="1"/>
<text x="342.81" y="176.0" font-size="8.6" font-weight="bold" text-anchor="middle" letter-spacing="0.3" fill="#000">Control</text>
<rect x="372.43" y="140.63" width="11.20" height="22.97" fill="#000"/>
<line x1="378.03" y1="137.18" x2="378.03" y2="140.63" stroke="#7a7a7a" stroke-width="1"/>
<line x1="375.83" y1="137.18" x2="380.23" y2="137.18" stroke="#000" stroke-width="1"/>
<text x="378.03" y="176.0" font-size="8.6" font-weight="bold" text-anchor="middle" fill="#000">150</text>
<rect x="407.65" y="118.86" width="11.20" height="44.74" fill="#000"/>
<line x1="413.25" y1="110.92" x2="413.25" y2="118.86" stroke="#7a7a7a" stroke-width="1"/>
<line x1="411.05" y1="110.92" x2="415.45" y2="110.92" stroke="#000" stroke-width="1"/>
<text x="413.25" y="176.0" font-size="8.6" font-weight="bold" text-anchor="middle" fill="#000">300</text>
<path d="M408.50 102.32L408.50 108.92M405.64 103.97L411.36 107.27M411.36 103.97L405.64 107.27" stroke="#000" stroke-width="1.15" fill="none"/>
<path d="M416.60 102.32L416.60 108.92M413.74 103.97L419.46 107.27M419.46 103.97L413.74 107.27" stroke="#000" stroke-width="1.15" fill="none"/>
<rect x="442.87" y="92.74" width="11.20" height="70.86" fill="#000"/>
<line x1="448.47" y1="86.97" x2="448.47" y2="92.74" stroke="#7a7a7a" stroke-width="1"/>
<line x1="446.27" y1="86.97" x2="450.67" y2="86.97" stroke="#000" stroke-width="1"/>
<text x="448.46999999999997" y="176.0" font-size="8.6" font-weight="bold" text-anchor="middle" fill="#000">450</text>
<path d="M438.47 78.37L438.47 84.97M435.61 80.02L441.33 83.32M441.33 80.02L435.61 83.32" stroke="#000" stroke-width="1.15" fill="none"/>
<path d="M446.57 78.37L446.57 84.97M443.71 80.02L449.43 83.32M449.43 80.02L443.71 83.32" stroke="#000" stroke-width="1.15" fill="none"/>
<path d="M454.67 78.37L454.67 84.97M451.81 80.02L457.53 83.32M457.53 80.02L451.81 83.32" stroke="#000" stroke-width="1.15" fill="none"/>
<rect x="478.09" y="70.45" width="11.20" height="93.15" fill="#000"/>
<line x1="483.69" y1="68.01" x2="483.69" y2="70.45" stroke="#7a7a7a" stroke-width="1"/>
<line x1="481.49" y1="68.01" x2="485.89" y2="68.01" stroke="#000" stroke-width="1"/>
<text x="483.69" y="176.0" font-size="8.6" font-weight="bold" text-anchor="middle" fill="#000">600</text>
<path d="M477.79 59.41L477.79 66.01M474.93 61.06L480.65 64.36M480.65 61.06L474.93 64.36" stroke="#000" stroke-width="1.15" fill="none"/>
<path d="M485.89 59.41L485.89 66.01M483.03 61.06L488.75 64.36M488.75 61.06L483.03 64.36" stroke="#000" stroke-width="1.15" fill="none"/>
<path d="M493.99 59.41L493.99 66.01M491.13 61.06L496.85 64.36M496.85 61.06L491.13 64.36" stroke="#000" stroke-width="1.15" fill="none"/>
<text x="384.0" y="189.4" font-size="10" font-weight="bold" fill="#000">RCE (µg/mL)</text>
<text x="356.0" y="251.9" font-size="10" font-weight="bold" textLength="56.0" lengthAdjust="spacing" fill="#000">HT-29 (48 h)</text>
<text x="295.0" y="338.8" font-size="10" font-weight="bold" transform="rotate(-90 295.0 338.8)" fill="#000">Caspase 3/7</text>
<text x="305.0" y="349.2" font-size="10" font-weight="bold" transform="rotate(-90 305.0 349.2)" fill="#000">(Fold activation)</text>
<line x1="320.60" y1="264.50" x2="320.60" y2="358.10" stroke="#333" stroke-width="1"/>
<line x1="320.60" y1="358.10" x2="484.20" y2="358.10" stroke="#333" stroke-width="1"/>
<text x="313.2" y="361.40000000000003" font-size="8.6" font-weight="bold" text-anchor="end" fill="#000">0</text>
<text x="313.2" y="345.85" font-size="8.6" font-weight="bold" text-anchor="end" fill="#000">1</text>
<text x="313.2" y="330.3" font-size="8.6" font-weight="bold" text-anchor="end" fill="#000">2</text>
<text x="313.2" y="314.75000000000006" font-size="8.6" font-weight="bold" text-anchor="end" fill="#000">3</text>
<text x="313.2" y="299.20000000000005" font-size="8.6" font-weight="bold" text-anchor="end" fill="#000">4</text>
<text x="313.2" y="283.65000000000003" font-size="8.6" font-weight="bold" text-anchor="end" fill="#000">5</text>
<text x="313.2" y="268.1" font-size="8.6" font-weight="bold" text-anchor="end" fill="#000">6</text>
<rect x="338.87" y="342.55" width="18.00" height="15.55" fill="#000"/>
<text x="347.865" y="371.0" font-size="8.6" font-weight="bold" text-anchor="middle" fill="#000">0</text>
<rect x="393.40" y="305.23" width="18.00" height="52.87" fill="#000"/>
<line x1="402.60" y1="302.90" x2="402.60" y2="305.23" stroke="#7a7a7a" stroke-width="1"/>
<line x1="401.90" y1="302.90" x2="404.90" y2="302.90" stroke="#000" stroke-width="1"/>
<path d="M397.75 293.70L397.75 300.30M394.89 295.35L400.60 298.65M400.60 295.35L394.89 298.65" stroke="#000" stroke-width="1.15" fill="none"/>
<path d="M405.85 293.70L405.85 300.30M402.99 295.35L408.70 298.65M408.70 295.35L402.99 298.65" stroke="#000" stroke-width="1.15" fill="none"/>
<text x="402.39500000000004" y="371.0" font-size="8.6" font-weight="bold" text-anchor="middle" fill="#000">300</text>
<rect x="447.93" y="284.24" width="18.00" height="73.86" fill="#000"/>
<line x1="457.12" y1="272.89" x2="457.12" y2="284.24" stroke="#7a7a7a" stroke-width="1"/>
<line x1="456.43" y1="272.89" x2="459.43" y2="272.89" stroke="#000" stroke-width="1"/>
<path d="M456.32 263.69L456.32 270.29M453.47 265.34L459.18 268.64M459.18 265.34L453.47 268.64" stroke="#000" stroke-width="1.15" fill="none"/>
<text x="456.925" y="371.0" font-size="8.6" font-weight="bold" text-anchor="middle" fill="#000">450</text>
<text x="373.4" y="385.2" font-size="10" font-weight="bold" fill="#000">RCE (µg/mL)</text>
<text x="606.6" y="18.6" font-size="12" font-weight="bold" fill="#000">48 h</text>
<line x1="550.00" y1="21.40" x2="673.60" y2="21.40" stroke="#000" stroke-width="1.1"/>
<text x="558.8" y="31.7" font-size="10.2" font-weight="bold" text-anchor="middle" fill="#000">0</text>
<text x="587.0" y="31.7" font-size="10.2" font-weight="bold" text-anchor="middle" fill="#000">150</text>
<text x="611.0" y="31.7" font-size="10.2" font-weight="bold" text-anchor="middle" fill="#000">300</text>
<text x="638.5" y="31.7" font-size="10.2" font-weight="bold" text-anchor="middle" fill="#000">450</text>
<text x="666.2" y="31.7" font-size="10.2" font-weight="bold" text-anchor="middle" fill="#000">600</text>
<text x="683.6" y="31.7" font-size="9.9" font-weight="bold" fill="#000">: RCE (µg/mL)</text>
<clipPath id="cp0"><rect x="545.2" y="35.3" width="141.2" height="23.0"/></clipPath>
<rect x="545.2" y="35.3" width="141.2" height="23.0" fill="#c3c3c3"/>
<g clip-path="url(#cp0)">
<rect x="546.1" y="36.199999999999996" width="139.4" height="21.2" fill="none" stroke="#fff" stroke-opacity="0.4" stroke-width="1.2" filter="url(#bl)"/>
<rect x="571.5" y="35.3" width="3" height="23.0" fill="#fff" fill-opacity="0.3" filter="url(#bl)"/>
<rect x="599.0" y="35.3" width="3" height="23.0" fill="#fff" fill-opacity="0.3" filter="url(#bl)"/>
<rect x="626.0" y="35.3" width="3" height="23.0" fill="#fff" fill-opacity="0.3" filter="url(#bl)"/>
<rect x="653.5" y="35.3" width="3" height="23.0" fill="#fff" fill-opacity="0.3" filter="url(#bl)"/>
<rect x="682.5" y="35.3" width="3" height="23.0" fill="#fff" fill-opacity="0.3" filter="url(#bl)"/>
<rect x="660.0" y="38.5" width="19.0" height="7.0" rx="3.0" fill="#000" fill-opacity="0.8" filter="url(#bl2)"/>
<rect x="604.0" y="38.0" width="20.0" height="8.0" rx="3.0" fill="#000" fill-opacity="0.1" filter="url(#bl2)"/>
<rect x="548.0" y="48.5" width="22.0" height="3.0" rx="1.5" fill="#000" fill-opacity="0.06" filter="url(#bl3)"/>
<rect x="630.0" y="38.0" width="24.0" height="8.0" rx="3.0" fill="#000" fill-opacity="0.1" filter="url(#bl2)"/>
<rect x="577.5" y="48.1" width="19.7" height="3.4" rx="1.7" fill="#000" fill-opacity="0.95" filter="url(#bl)"/>
<rect x="604.6" y="46.1" width="19.5" height="5.6" rx="2.8" fill="#000" fill-opacity="1" filter="url(#bl)" transform="rotate(-3.5 614.4 48.9)"/>
<rect x="630.1" y="45.9" width="23.6" height="5.2" rx="2.6" fill="#000" fill-opacity="1" filter="url(#bl)"/>
<rect x="657.1" y="42.9" width="24.4" height="7.4" rx="3.5" fill="#000" fill-opacity="1" filter="url(#bl)"/>
</g>
<rect x="545.2" y="35.3" width="141.2" height="23.0" fill="none" stroke="#222" stroke-width="1"/>
<clipPath id="cp1"><rect x="545.2" y="62.3" width="141.2" height="26.1"/></clipPath>
<rect x="545.2" y="62.3" width="141.2" height="26.1" fill="#d9d9d9"/>
<g clip-path="url(#cp1)">
<rect x="546.1" y="63.199999999999996" width="139.4" height="24.3" fill="none" stroke="#fff" stroke-opacity="0.4" stroke-width="1.2" filter="url(#bl)"/>
<rect x="545.9" y="67.9" width="28.0" height="12.2" rx="4.0" fill="#000" fill-opacity="0.28" filter="url(#bl2)"/>
<rect x="547.9" y="70.4" width="24.0" height="7.2" rx="3.5" fill="#000" fill-opacity="1" filter="url(#bl)"/>
<rect x="571.7" y="67.9" width="28.2" height="12.2" rx="4.0" fill="#000" fill-opacity="0.28" filter="url(#bl2)"/>
<rect x="573.7" y="70.4" width="24.2" height="7.2" rx="3.5" fill="#000" fill-opacity="1" filter="url(#bl)"/>
<rect x="599.6" y="68.0" width="26.3" height="12.0" rx="4.0" fill="#000" fill-opacity="0.28" filter="url(#bl2)"/>
<rect x="601.6" y="70.5" width="22.3" height="7.0" rx="3.5" fill="#000" fill-opacity="1" filter="url(#bl)"/>
<rect x="623.6" y="67.7" width="30.9" height="12.6" rx="4.0" fill="#000" fill-opacity="0.28" filter="url(#bl2)"/>
<rect x="625.6" y="70.2" width="26.9" height="7.6" rx="3.5" fill="#000" fill-opacity="1" filter="url(#bl)"/>
<rect x="651.5" y="67.6" width="28.8" height="12.8" rx="4.0" fill="#000" fill-opacity="0.28" filter="url(#bl2)"/>
<rect x="653.5" y="70.1" width="24.8" height="7.8" rx="3.5" fill="#000" fill-opacity="1" filter="url(#bl)"/>
</g>
<rect x="545.2" y="62.3" width="141.2" height="26.1" fill="none" stroke="#222" stroke-width="1"/>
<clipPath id="cp2"><rect x="545.2" y="92.2" width="141.2" height="19.8"/></clipPath>
<rect x="545.2" y="92.2" width="141.2" height="19.8" fill="#e0e0e0"/>
<g clip-path="url(#cp2)">
<rect x="546.1" y="93.10000000000001" width="139.4" height="18.0" fill="none" stroke="#fff" stroke-opacity="0.4" stroke-width="1.2" filter="url(#bl)"/>
<rect x="547.5" y="99.6" width="22.5" height="5.2" rx="2.6" fill="#000" fill-opacity="1" filter="url(#bl)"/>
<rect x="577.5" y="99.9" width="18.7" height="4.6" rx="2.3" fill="#000" fill-opacity="1" filter="url(#bl)"/>
<rect x="605.0" y="100.9" width="19.9" height="3.0" rx="1.5" fill="#000" fill-opacity="0.15" filter="url(#bl)"/>
<rect x="632.8" y="98.9" width="19.7" height="4.0" rx="2.0" fill="#000" fill-opacity="0.62" filter="url(#bl)"/>
<rect x="660.4" y="98.1" width="19.7" height="3.6" rx="1.8" fill="#000" fill-opacity="0.52" filter="url(#bl)" transform="rotate(-2 670.2 99.9)"/>
</g>
<rect x="545.2" y="92.2" width="141.2" height="19.8" fill="none" stroke="#222" stroke-width="1"/>
<clipPath id="cp3"><rect x="545.2" y="115.5" width="141.2" height="19.7"/></clipPath>
<rect x="545.2" y="115.5" width="141.2" height="19.7" fill="#dddddd"/>
<g clip-path="url(#cp3)">
<rect x="546.1" y="116.4" width="139.4" height="17.9" fill="none" stroke="#fff" stroke-opacity="0.4" stroke-width="1.2" filter="url(#bl)"/>
<rect x="547.5" y="119.1" width="29.0" height="12.0" rx="4.0" fill="#000" fill-opacity="0.28" filter="url(#bl2)"/>
<rect x="549.5" y="121.6" width="25.0" height="7.0" rx="3.5" fill="#000" fill-opacity="1" filter="url(#bl)"/>
<rect x="575.9" y="119.1" width="27.7" height="12.0" rx="4.0" fill="#000" fill-opacity="0.28" filter="url(#bl2)"/>
<rect x="577.9" y="121.6" width="23.7" height="7.0" rx="3.5" fill="#000" fill-opacity="1" filter="url(#bl)"/>
<rect x="603.1" y="119.1" width="27.3" height="12.0" rx="4.0" fill="#000" fill-opacity="0.28" filter="url(#bl2)"/>
<rect x="605.1" y="121.6" width="23.3" height="7.0" rx="3.5" fill="#000" fill-opacity="1" filter="url(#bl)"/>
<rect x="629.8" y="119.1" width="28.2" height="12.0" rx="4.0" fill="#000" fill-opacity="0.28" filter="url(#bl2)"/>
<rect x="631.8" y="121.6" width="24.2" height="7.0" rx="3.5" fill="#000" fill-opacity="1" filter="url(#bl)"/>
<rect x="656.8" y="119.1" width="27.3" height="12.0" rx="4.0" fill="#000" fill-opacity="0.28" filter="url(#bl2)"/>
<rect x="658.8" y="121.6" width="23.3" height="7.0" rx="3.5" fill="#000" fill-opacity="1" filter="url(#bl)"/>
</g>
<rect x="545.2" y="115.5" width="141.2" height="19.7" fill="none" stroke="#222" stroke-width="1"/>
<clipPath id="cp4"><rect x="545.2" y="139.1" width="141.2" height="21.9"/></clipPath>
<rect x="545.2" y="139.1" width="141.2" height="21.9" fill="#dfdfdf"/>
<g clip-path="url(#cp4)">
<rect x="546.1" y="140.0" width="139.4" height="20.1" fill="none" stroke="#fff" stroke-opacity="0.4" stroke-width="1.2" filter="url(#bl)"/>
<rect x="549.5" y="147.1" width="19.5" height="5.0" rx="2.5" fill="#000" fill-opacity="1" filter="url(#bl)"/>
<rect x="549.5" y="147.0" width="10.5" height="5.6" rx="2.8" fill="#000" fill-opacity="1" filter="url(#bl)"/>
<rect x="550.0" y="152.8" width="18.0" height="3.5" rx="1.8" fill="#000" fill-opacity="0.14" filter="url(#bl3)"/>
<rect x="576.0" y="146.5" width="19.0" height="3.6" rx="1.8" fill="#000" fill-opacity="0.45" filter="url(#bl)"/>
<rect x="576.0" y="150.3" width="19.0" height="5.0" rx="2.5" fill="#000" fill-opacity="0.16" filter="url(#bl3)"/>
<rect x="603.0" y="143.5" width="20.0" height="11.0" rx="3.5" fill="#000" fill-opacity="0.16" filter="url(#bl2)"/>
<rect x="630.0" y="146.0" width="22.0" height="8.0" rx="3.5" fill="#000" fill-opacity="0.04" filter="url(#bl2)"/>
<rect x="658.0" y="147.0" width="22.0" height="8.0" rx="3.5" fill="#000" fill-opacity="0.03" filter="url(#bl2)"/>
</g>
<rect x="545.2" y="139.1" width="141.2" height="21.9" fill="none" stroke="#222" stroke-width="1"/>
<clipPath id="cp5"><rect x="545.2" y="165.2" width="141.2" height="22.0"/></clipPath>
<rect x="545.2" y="165.2" width="141.2" height="22.0" fill="#dadada"/>
<g clip-path="url(#cp5)">
<rect x="546.1" y="166.1" width="139.4" height="20.2" fill="none" stroke="#fff" stroke-opacity="0.4" stroke-width="1.2" filter="url(#bl)"/>
<rect x="604.2" y="167.0" width="21.6" height="8.0" rx="3.5" fill="#000" fill-opacity="0.6" filter="url(#bl2)"/>
<rect x="631.4" y="167.0" width="21.1" height="8.0" rx="3.5" fill="#000" fill-opacity="0.45" filter="url(#bl2)"/>
<rect x="658.4" y="167.0" width="21.1" height="8.0" rx="3.5" fill="#000" fill-opacity="0.42" filter="url(#bl2)"/>
<rect x="544.5" y="172.4" width="30.1" height="9.6" rx="4.0" fill="#000" fill-opacity="0.15" filter="url(#bl2)"/>
<rect x="546.5" y="174.9" width="26.1" height="4.6" rx="2.3" fill="#000" fill-opacity="1" filter="url(#bl)"/>
<rect x="574.5" y="172.4" width="26.7" height="9.6" rx="4.0" fill="#000" fill-opacity="0.15" filter="url(#bl2)"/>
<rect x="576.5" y="174.9" width="22.7" height="4.6" rx="2.3" fill="#000" fill-opacity="1" filter="url(#bl)"/>
<rect x="601.2" y="172.4" width="27.6" height="9.6" rx="4.0" fill="#000" fill-opacity="0.15" filter="url(#bl2)"/>
<rect x="603.2" y="174.9" width="23.6" height="4.6" rx="2.3" fill="#000" fill-opacity="1" filter="url(#bl)"/>
<rect x="628.4" y="172.4" width="27.1" height="9.6" rx="4.0" fill="#000" fill-opacity="0.15" filter="url(#bl2)"/>
<rect x="630.4" y="174.9" width="23.1" height="4.6" rx="2.3" fill="#000" fill-opacity="1" filter="url(#bl)"/>
<rect x="655.4" y="172.4" width="27.1" height="9.6" rx="4.0" fill="#000" fill-opacity="0.15" filter="url(#bl2)"/>
<rect x="657.4" y="174.9" width="23.1" height="4.6" rx="2.3" fill="#000" fill-opacity="1" filter="url(#bl)"/>
</g>
<rect x="545.2" y="165.2" width="141.2" height="22.0" fill="none" stroke="#222" stroke-width="1"/>
<clipPath id="cp6"><rect x="545.2" y="190.4" width="141.2" height="82.0"/></clipPath>
<rect x="545.2" y="190.4" width="141.2" height="82.0" fill="#d5d5d5"/>
<g clip-path="url(#cp6)">
<rect x="546.1" y="191.3" width="139.4" height="80.2" fill="none" stroke="#fff" stroke-opacity="0.4" stroke-width="1.2" filter="url(#bl)"/>
<rect x="549.6" y="212" width="22" height="62" fill="#000" fill-opacity="0.08" filter="url(#bl2)"/>
<rect x="577.2" y="212" width="22" height="62" fill="#000" fill-opacity="0.11" filter="url(#bl2)"/>
<rect x="603.8" y="212" width="22" height="62" fill="#000" fill-opacity="0.1" filter="url(#bl2)"/>
<rect x="630.4" y="212" width="22" height="62" fill="#000" fill-opacity="0.08" filter="url(#bl2)"/>
<rect x="655.8" y="212" width="22" height="62" fill="#000" fill-opacity="0.08" filter="url(#bl2)"/>
<rect x="547.0" y="191.0" width="136.0" height="22.0" rx="4.0" fill="#000" fill-opacity="0.62" filter="url(#bl2)"/>
<rect x="547.9" y="192.9" width="25.7" height="35.6" rx="5.0" fill="#000" fill-opacity="0.25" filter="url(#bl2)"/>
<rect x="548.9" y="193.9" width="23.7" height="19.1" rx="5.0" fill="#000" fill-opacity="1" filter="url(#bl3)"/>
<rect x="550.1" y="209.0" width="21.3" height="12.5" rx="4.0" fill="#000" fill-opacity="1" filter="url(#bl3)"/>
<rect x="575.0" y="192.9" width="26.2" height="36.6" rx="5.0" fill="#000" fill-opacity="0.25" filter="url(#bl2)"/>
<rect x="576.0" y="193.9" width="24.2" height="20.1" rx="5.0" fill="#000" fill-opacity="1" filter="url(#bl3)"/>
<rect x="577.2" y="210.0" width="21.8" height="12.5" rx="4.0" fill="#000" fill-opacity="1" filter="url(#bl3)"/>
<rect x="602.0" y="193.0" width="25.2" height="33.5" rx="5.0" fill="#000" fill-opacity="0.25" filter="url(#bl2)"/>
<rect x="603.0" y="194.0" width="23.2" height="18.0" rx="5.0" fill="#000" fill-opacity="1" filter="url(#bl3)"/>
<rect x="604.2" y="208.0" width="20.8" height="11.5" rx="4.0" fill="#000" fill-opacity="1" filter="url(#bl3)"/>
<rect x="629.4" y="193.9" width="22.6" height="23.0" rx="5.0" fill="#000" fill-opacity="0.25" filter="url(#bl2)"/>
<rect x="630.4" y="194.9" width="20.6" height="15.0" rx="5.0" fill="#000" fill-opacity="1" filter="url(#bl3)"/>
<rect x="655.4" y="192.9" width="23.0" height="22.0" rx="5.0" fill="#000" fill-opacity="0.25" filter="url(#bl2)"/>
<rect x="656.4" y="193.9" width="21.0" height="14.0" rx="5.0" fill="#000" fill-opacity="1" filter="url(#bl3)"/>
<rect x="631.0" y="212.5" width="19.5" height="5.0" rx="2.5" fill="#000" fill-opacity="0.55" filter="url(#bl3)"/>
<rect x="657.0" y="211.6" width="20.0" height="5.2" rx="2.6" fill="#000" fill-opacity="0.85" filter="url(#bl)"/>
<rect x="550.0" y="261.5" width="21.0" height="5.4" rx="2.7" fill="#000" fill-opacity="0.1" filter="url(#bl3)"/>
<rect x="577.0" y="261.5" width="22.0" height="5.4" rx="2.7" fill="#000" fill-opacity="0.14" filter="url(#bl3)"/>
<rect x="605.0" y="261.5" width="18.0" height="5.4" rx="2.7" fill="#000" fill-opacity="0.32" filter="url(#bl3)"/>
<rect x="632.0" y="261.5" width="18.0" height="5.4" rx="2.7" fill="#000" fill-opacity="0.34" filter="url(#bl3)"/>
<rect x="658.0" y="261.5" width="20.0" height="5.4" rx="2.7" fill="#000" fill-opacity="0.5" filter="url(#bl3)"/>
</g>
<rect x="545.2" y="190.4" width="141.2" height="82.0" fill="none" stroke="#222" stroke-width="1"/>
<clipPath id="cp7"><rect x="545.2" y="277.3" width="141.2" height="26.2"/></clipPath>
<rect x="545.2" y="277.3" width="141.2" height="26.2" fill="#dedede"/>
<g clip-path="url(#cp7)">
<rect x="546.1" y="278.2" width="139.4" height="24.4" fill="none" stroke="#fff" stroke-opacity="0.4" stroke-width="1.2" filter="url(#bl)"/>
<rect x="547.1" y="282.0" width="28.9" height="13.2" rx="4.0" fill="#000" fill-opacity="0.28" filter="url(#bl2)"/>
<rect x="549.1" y="284.5" width="24.9" height="8.2" rx="3.5" fill="#000" fill-opacity="1" filter="url(#bl)" transform="rotate(2 561.5 288.6)"/>
<rect x="574.4" y="282.0" width="28.3" height="13.2" rx="4.0" fill="#000" fill-opacity="0.28" filter="url(#bl2)"/>
<rect x="576.4" y="284.5" width="24.3" height="8.2" rx="3.5" fill="#000" fill-opacity="1" filter="url(#bl)" transform="rotate(2 588.5 288.6)"/>
<rect x="601.8" y="282.0" width="28.2" height="13.2" rx="4.0" fill="#000" fill-opacity="0.28" filter="url(#bl2)"/>
<rect x="603.8" y="284.5" width="24.2" height="8.2" rx="3.5" fill="#000" fill-opacity="1" filter="url(#bl)" transform="rotate(2 615.9 288.6)"/>
<rect x="628.5" y="282.0" width="26.5" height="13.2" rx="4.0" fill="#000" fill-opacity="0.28" filter="url(#bl2)"/>
<rect x="630.5" y="284.5" width="22.5" height="8.2" rx="3.5" fill="#000" fill-opacity="1" filter="url(#bl)" transform="rotate(2 641.8 288.6)"/>
<rect x="654.9" y="282.0" width="26.8" height="13.2" rx="4.0" fill="#000" fill-opacity="0.28" filter="url(#bl2)"/>
<rect x="656.9" y="284.5" width="22.8" height="8.2" rx="3.5" fill="#000" fill-opacity="1" filter="url(#bl)" transform="rotate(2 668.3 288.6)"/>
</g>
<rect x="545.2" y="277.3" width="141.2" height="26.2" fill="none" stroke="#222" stroke-width="1"/>
<text x="688.4" y="52.2" font-size="10" font-weight="bold" fill="#000">Cleaved  PARP</text>
<text x="688.4" y="79.3" font-size="10" font-weight="bold" fill="#000">β-actin</text>
<text x="688.4" y="104.1" font-size="10" font-weight="bold" fill="#000">Pro-caspase 3</text>
<text x="688.4" y="125.5" font-size="10" font-weight="bold" fill="#000">β-actin</text>
<text x="688.4" y="155.5" font-size="10" font-weight="bold" fill="#000">Cl. caspase 3</text>
<text x="688.4" y="180.8" font-size="10" font-weight="bold" fill="#000">β-actin</text>
<text x="688.4" y="209.1" font-size="10" font-weight="bold" fill="#000">Pro-caspase 7</text>
<text x="688.4" y="267.0" font-size="10" font-weight="bold" fill="#000">Cl. caspase 7</text>
<text x="688.4" y="293.4" font-size="10" font-weight="bold" fill="#000">β-actin</text>
</svg>
</body></html>
